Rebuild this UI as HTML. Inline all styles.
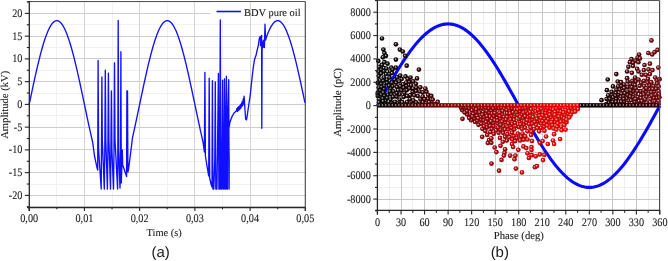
<!DOCTYPE html>
<html><head><meta charset="utf-8"><style>
html,body{margin:0;padding:0;background:#fff;}
svg{display:block;will-change:transform;} text{text-rendering:geometricPrecision;}
</style></head><body>
<svg width="668" height="261" viewBox="0 0 668 261">
<defs><radialGradient id="g0" cx="0.5" cy="0.5" r="0.5" fx="0.38" fy="0.36"><stop offset="0" stop-color="rgb(229, 225, 225)"/><stop offset="0.24" stop-color="rgb(136, 117, 117)"/><stop offset="0.55" stop-color="rgb(38, 4, 4)"/><stop offset="0.88" stop-color="rgb(33, 3, 3)"/><stop offset="1" stop-color="rgb(22, 2, 2)"/></radialGradient><radialGradient id="g1" cx="0.5" cy="0.5" r="0.5" fx="0.38" fy="0.36"><stop offset="0" stop-color="rgb(226, 225, 225)"/><stop offset="0.24" stop-color="rgb(121, 119, 119)"/><stop offset="0.55" stop-color="rgb(12, 8, 8)"/><stop offset="0.88" stop-color="rgb(10, 7, 7)"/><stop offset="1" stop-color="rgb(7, 4, 4)"/></radialGradient><radialGradient id="g2" cx="0.5" cy="0.5" r="0.5" fx="0.38" fy="0.36"><stop offset="0" stop-color="rgb(226, 225, 225)"/><stop offset="0.24" stop-color="rgb(121, 119, 119)"/><stop offset="0.55" stop-color="rgb(11, 8, 8)"/><stop offset="0.88" stop-color="rgb(9, 7, 7)"/><stop offset="1" stop-color="rgb(6, 4, 4)"/></radialGradient><radialGradient id="g3" cx="0.5" cy="0.5" r="0.5" fx="0.38" fy="0.36"><stop offset="0" stop-color="rgb(228, 225, 225)"/><stop offset="0.24" stop-color="rgb(132, 118, 118)"/><stop offset="0.55" stop-color="rgb(31, 5, 5)"/><stop offset="0.88" stop-color="rgb(27, 4, 4)"/><stop offset="1" stop-color="rgb(18, 3, 3)"/></radialGradient><radialGradient id="g4" cx="0.5" cy="0.5" r="0.5" fx="0.38" fy="0.36"><stop offset="0" stop-color="rgb(230, 225, 225)"/><stop offset="0.24" stop-color="rgb(139, 116, 116)"/><stop offset="0.55" stop-color="rgb(44, 3, 3)"/><stop offset="0.88" stop-color="rgb(38, 2, 2)"/><stop offset="1" stop-color="rgb(26, 1, 1)"/></radialGradient><radialGradient id="g5" cx="0.5" cy="0.5" r="0.5" fx="0.38" fy="0.36"><stop offset="0" stop-color="rgb(227, 225, 225)"/><stop offset="0.24" stop-color="rgb(127, 118, 118)"/><stop offset="0.55" stop-color="rgb(23, 6, 6)"/><stop offset="0.88" stop-color="rgb(20, 5, 5)"/><stop offset="1" stop-color="rgb(13, 3, 3)"/></radialGradient><radialGradient id="g6" cx="0.5" cy="0.5" r="0.5" fx="0.38" fy="0.36"><stop offset="0" stop-color="rgb(227, 225, 225)"/><stop offset="0.24" stop-color="rgb(128, 118, 118)"/><stop offset="0.55" stop-color="rgb(24, 6, 6)"/><stop offset="0.88" stop-color="rgb(21, 5, 5)"/><stop offset="1" stop-color="rgb(14, 3, 3)"/></radialGradient><radialGradient id="g7" cx="0.5" cy="0.5" r="0.5" fx="0.38" fy="0.36"><stop offset="0" stop-color="rgb(232, 225, 225)"/><stop offset="0.24" stop-color="rgb(149, 116, 117)"/><stop offset="0.55" stop-color="rgb(63, 2, 4)"/><stop offset="0.88" stop-color="rgb(55, 1, 3)"/><stop offset="1" stop-color="rgb(37, 1, 2)"/></radialGradient><radialGradient id="g8" cx="0.5" cy="0.5" r="0.5" fx="0.38" fy="0.36"><stop offset="0" stop-color="rgb(231, 225, 225)"/><stop offset="0.24" stop-color="rgb(143, 116, 116)"/><stop offset="0.55" stop-color="rgb(52, 3, 3)"/><stop offset="0.88" stop-color="rgb(45, 2, 2)"/><stop offset="1" stop-color="rgb(31, 1, 1)"/></radialGradient><radialGradient id="g9" cx="0.5" cy="0.5" r="0.5" fx="0.38" fy="0.36"><stop offset="0" stop-color="rgb(233, 225, 225)"/><stop offset="0.24" stop-color="rgb(153, 116, 117)"/><stop offset="0.55" stop-color="rgb(69, 2, 4)"/><stop offset="0.88" stop-color="rgb(60, 1, 3)"/><stop offset="1" stop-color="rgb(41, 1, 2)"/></radialGradient><radialGradient id="g10" cx="0.5" cy="0.5" r="0.5" fx="0.38" fy="0.36"><stop offset="0" stop-color="rgb(228, 225, 225)"/><stop offset="0.24" stop-color="rgb(130, 118, 118)"/><stop offset="0.55" stop-color="rgb(28, 5, 5)"/><stop offset="0.88" stop-color="rgb(24, 4, 4)"/><stop offset="1" stop-color="rgb(16, 3, 3)"/></radialGradient><radialGradient id="g11" cx="0.5" cy="0.5" r="0.5" fx="0.38" fy="0.36"><stop offset="0" stop-color="rgb(233, 225, 225)"/><stop offset="0.24" stop-color="rgb(155, 116, 117)"/><stop offset="0.55" stop-color="rgb(73, 2, 4)"/><stop offset="0.88" stop-color="rgb(64, 1, 3)"/><stop offset="1" stop-color="rgb(43, 1, 2)"/></radialGradient><radialGradient id="g12" cx="0.5" cy="0.5" r="0.5" fx="0.38" fy="0.36"><stop offset="0" stop-color="rgb(234, 225, 225)"/><stop offset="0.24" stop-color="rgb(159, 116, 117)"/><stop offset="0.55" stop-color="rgb(80, 2, 4)"/><stop offset="0.88" stop-color="rgb(70, 1, 3)"/><stop offset="1" stop-color="rgb(48, 1, 2)"/></radialGradient><radialGradient id="g13" cx="0.5" cy="0.5" r="0.5" fx="0.38" fy="0.36"><stop offset="0" stop-color="rgb(231, 225, 225)"/><stop offset="0.24" stop-color="rgb(146, 116, 116)"/><stop offset="0.55" stop-color="rgb(56, 3, 3)"/><stop offset="0.88" stop-color="rgb(49, 2, 2)"/><stop offset="1" stop-color="rgb(33, 1, 1)"/></radialGradient><radialGradient id="g14" cx="0.5" cy="0.5" r="0.5" fx="0.38" fy="0.36"><stop offset="0" stop-color="rgb(235, 225, 225)"/><stop offset="0.24" stop-color="rgb(162, 115, 118)"/><stop offset="0.55" stop-color="rgb(85, 1, 5)"/><stop offset="0.88" stop-color="rgb(74, 0, 4)"/><stop offset="1" stop-color="rgb(51, 0, 3)"/></radialGradient><radialGradient id="g15" cx="0.5" cy="0.5" r="0.5" fx="0.38" fy="0.36"><stop offset="0" stop-color="rgb(253, 225, 225)"/><stop offset="0.24" stop-color="rgb(247, 118, 118)"/><stop offset="0.55" stop-color="rgb(241, 5, 5)"/><stop offset="0.88" stop-color="rgb(212, 4, 4)"/><stop offset="1" stop-color="rgb(144, 3, 3)"/></radialGradient><radialGradient id="g16" cx="0.5" cy="0.5" r="0.5" fx="0.38" fy="0.36"><stop offset="0" stop-color="rgb(249, 225, 225)"/><stop offset="0.24" stop-color="rgb(230, 116, 119)"/><stop offset="0.55" stop-color="rgb(209, 3, 7)"/><stop offset="0.88" stop-color="rgb(183, 2, 6)"/><stop offset="1" stop-color="rgb(125, 1, 4)"/></radialGradient><radialGradient id="g17" cx="0.5" cy="0.5" r="0.5" fx="0.38" fy="0.36"><stop offset="0" stop-color="rgb(244, 225, 225)"/><stop offset="0.24" stop-color="rgb(204, 115, 119)"/><stop offset="0.55" stop-color="rgb(163, 1, 8)"/><stop offset="0.88" stop-color="rgb(143, 0, 7)"/><stop offset="1" stop-color="rgb(97, 0, 4)"/></radialGradient><radialGradient id="g18" cx="0.5" cy="0.5" r="0.5" fx="0.38" fy="0.36"><stop offset="0" stop-color="rgb(244, 225, 225)"/><stop offset="0.24" stop-color="rgb(203, 115, 119)"/><stop offset="0.55" stop-color="rgb(160, 1, 8)"/><stop offset="0.88" stop-color="rgb(140, 0, 7)"/><stop offset="1" stop-color="rgb(96, 0, 4)"/></radialGradient><radialGradient id="g19" cx="0.5" cy="0.5" r="0.5" fx="0.38" fy="0.36"><stop offset="0" stop-color="rgb(241, 224, 225)"/><stop offset="0.24" stop-color="rgb(190, 115, 119)"/><stop offset="0.55" stop-color="rgb(136, 0, 8)"/><stop offset="0.88" stop-color="rgb(119, 0, 7)"/><stop offset="1" stop-color="rgb(81, 0, 4)"/></radialGradient><radialGradient id="g20" cx="0.5" cy="0.5" r="0.5" fx="0.38" fy="0.36"><stop offset="0" stop-color="rgb(241, 224, 225)"/><stop offset="0.24" stop-color="rgb(191, 115, 119)"/><stop offset="0.55" stop-color="rgb(139, 0, 8)"/><stop offset="0.88" stop-color="rgb(122, 0, 7)"/><stop offset="1" stop-color="rgb(83, 0, 4)"/></radialGradient><radialGradient id="g21" cx="0.5" cy="0.5" r="0.5" fx="0.38" fy="0.36"><stop offset="0" stop-color="rgb(243, 225, 225)"/><stop offset="0.24" stop-color="rgb(199, 115, 119)"/><stop offset="0.55" stop-color="rgb(154, 1, 8)"/><stop offset="0.88" stop-color="rgb(135, 0, 7)"/><stop offset="1" stop-color="rgb(92, 0, 4)"/></radialGradient><radialGradient id="g22" cx="0.5" cy="0.5" r="0.5" fx="0.38" fy="0.36"><stop offset="0" stop-color="rgb(254, 225, 225)"/><stop offset="0.24" stop-color="rgb(251, 118, 118)"/><stop offset="0.55" stop-color="rgb(248, 5, 5)"/><stop offset="0.88" stop-color="rgb(218, 4, 4)"/><stop offset="1" stop-color="rgb(148, 3, 3)"/></radialGradient><radialGradient id="g23" cx="0.5" cy="0.5" r="0.5" fx="0.38" fy="0.36"><stop offset="0" stop-color="rgb(250, 225, 225)"/><stop offset="0.24" stop-color="rgb(234, 117, 118)"/><stop offset="0.55" stop-color="rgb(217, 4, 6)"/><stop offset="0.88" stop-color="rgb(190, 3, 5)"/><stop offset="1" stop-color="rgb(130, 2, 3)"/></radialGradient><radialGradient id="g24" cx="0.5" cy="0.5" r="0.5" fx="0.38" fy="0.36"><stop offset="0" stop-color="rgb(251, 225, 225)"/><stop offset="0.24" stop-color="rgb(237, 117, 118)"/><stop offset="0.55" stop-color="rgb(222, 4, 6)"/><stop offset="0.88" stop-color="rgb(195, 3, 5)"/><stop offset="1" stop-color="rgb(133, 2, 3)"/></radialGradient><radialGradient id="g25" cx="0.5" cy="0.5" r="0.5" fx="0.38" fy="0.36"><stop offset="0" stop-color="rgb(246, 225, 225)"/><stop offset="0.24" stop-color="rgb(214, 116, 119)"/><stop offset="0.55" stop-color="rgb(180, 2, 8)"/><stop offset="0.88" stop-color="rgb(158, 1, 7)"/><stop offset="1" stop-color="rgb(108, 1, 4)"/></radialGradient><radialGradient id="g26" cx="0.5" cy="0.5" r="0.5" fx="0.38" fy="0.36"><stop offset="0" stop-color="rgb(247, 225, 225)"/><stop offset="0.24" stop-color="rgb(220, 116, 119)"/><stop offset="0.55" stop-color="rgb(191, 3, 7)"/><stop offset="0.88" stop-color="rgb(168, 2, 6)"/><stop offset="1" stop-color="rgb(114, 1, 4)"/></radialGradient><radialGradient id="g27" cx="0.5" cy="0.5" r="0.5" fx="0.38" fy="0.36"><stop offset="0" stop-color="rgb(242, 224, 225)"/><stop offset="0.24" stop-color="rgb(197, 115, 119)"/><stop offset="0.55" stop-color="rgb(149, 0, 8)"/><stop offset="0.88" stop-color="rgb(131, 0, 7)"/><stop offset="1" stop-color="rgb(89, 0, 4)"/></radialGradient><radialGradient id="g28" cx="0.5" cy="0.5" r="0.5" fx="0.38" fy="0.36"><stop offset="0" stop-color="rgb(248, 225, 225)"/><stop offset="0.24" stop-color="rgb(223, 116, 119)"/><stop offset="0.55" stop-color="rgb(196, 3, 7)"/><stop offset="0.88" stop-color="rgb(172, 2, 6)"/><stop offset="1" stop-color="rgb(117, 1, 4)"/></radialGradient><radialGradient id="g29" cx="0.5" cy="0.5" r="0.5" fx="0.38" fy="0.36"><stop offset="0" stop-color="rgb(248, 225, 225)"/><stop offset="0.24" stop-color="rgb(225, 116, 119)"/><stop offset="0.55" stop-color="rgb(200, 3, 7)"/><stop offset="0.88" stop-color="rgb(176, 2, 6)"/><stop offset="1" stop-color="rgb(120, 1, 4)"/></radialGradient><radialGradient id="g30" cx="0.5" cy="0.5" r="0.5" fx="0.38" fy="0.36"><stop offset="0" stop-color="rgb(252, 225, 225)"/><stop offset="0.24" stop-color="rgb(242, 117, 118)"/><stop offset="0.55" stop-color="rgb(231, 4, 6)"/><stop offset="0.88" stop-color="rgb(203, 3, 5)"/><stop offset="1" stop-color="rgb(138, 2, 3)"/></radialGradient><radialGradient id="g31" cx="0.5" cy="0.5" r="0.5" fx="0.38" fy="0.36"><stop offset="0" stop-color="rgb(250, 225, 225)"/><stop offset="0.24" stop-color="rgb(231, 117, 118)"/><stop offset="0.55" stop-color="rgb(212, 4, 6)"/><stop offset="0.88" stop-color="rgb(186, 3, 5)"/><stop offset="1" stop-color="rgb(127, 2, 3)"/></radialGradient><radialGradient id="g32" cx="0.5" cy="0.5" r="0.5" fx="0.38" fy="0.36"><stop offset="0" stop-color="rgb(245, 225, 225)"/><stop offset="0.24" stop-color="rgb(210, 116, 119)"/><stop offset="0.55" stop-color="rgb(174, 2, 8)"/><stop offset="0.88" stop-color="rgb(153, 1, 7)"/><stop offset="1" stop-color="rgb(104, 1, 4)"/></radialGradient><radialGradient id="g33" cx="0.5" cy="0.5" r="0.5" fx="0.38" fy="0.36"><stop offset="0" stop-color="rgb(252, 225, 225)"/><stop offset="0.24" stop-color="rgb(243, 118, 118)"/><stop offset="0.55" stop-color="rgb(233, 5, 5)"/><stop offset="0.88" stop-color="rgb(205, 4, 4)"/><stop offset="1" stop-color="rgb(139, 3, 3)"/></radialGradient><radialGradient id="g34" cx="0.5" cy="0.5" r="0.5" fx="0.38" fy="0.36"><stop offset="0" stop-color="rgb(245, 225, 225)"/><stop offset="0.24" stop-color="rgb(208, 115, 119)"/><stop offset="0.55" stop-color="rgb(170, 1, 8)"/><stop offset="0.88" stop-color="rgb(149, 0, 7)"/><stop offset="1" stop-color="rgb(102, 0, 4)"/></radialGradient><radialGradient id="g35" cx="0.5" cy="0.5" r="0.5" fx="0.38" fy="0.36"><stop offset="0" stop-color="rgb(253, 225, 225)"/><stop offset="0.24" stop-color="rgb(244, 118, 118)"/><stop offset="0.55" stop-color="rgb(235, 5, 5)"/><stop offset="0.88" stop-color="rgb(206, 4, 4)"/><stop offset="1" stop-color="rgb(141, 3, 3)"/></radialGradient><radialGradient id="g36" cx="0.5" cy="0.5" r="0.5" fx="0.38" fy="0.36"><stop offset="0" stop-color="rgb(255, 225, 225)"/><stop offset="0.24" stop-color="rgb(253, 118, 118)"/><stop offset="0.55" stop-color="rgb(252, 5, 5)"/><stop offset="0.88" stop-color="rgb(221, 4, 4)"/><stop offset="1" stop-color="rgb(151, 3, 3)"/></radialGradient><radialGradient id="g37" cx="0.5" cy="0.5" r="0.5" fx="0.38" fy="0.36"><stop offset="0" stop-color="rgb(240, 224, 225)"/><stop offset="0.24" stop-color="rgb(184, 115, 119)"/><stop offset="0.55" stop-color="rgb(126, 0, 7)"/><stop offset="0.88" stop-color="rgb(110, 0, 6)"/><stop offset="1" stop-color="rgb(75, 0, 4)"/></radialGradient><radialGradient id="g38" cx="0.5" cy="0.5" r="0.5" fx="0.38" fy="0.36"><stop offset="0" stop-color="rgb(239, 224, 225)"/><stop offset="0.24" stop-color="rgb(183, 115, 119)"/><stop offset="0.55" stop-color="rgb(124, 0, 7)"/><stop offset="0.88" stop-color="rgb(109, 0, 6)"/><stop offset="1" stop-color="rgb(74, 0, 4)"/></radialGradient><radialGradient id="g39" cx="0.5" cy="0.5" r="0.5" fx="0.38" fy="0.36"><stop offset="0" stop-color="rgb(236, 225, 226)"/><stop offset="0.24" stop-color="rgb(169, 119, 122)"/><stop offset="0.55" stop-color="rgb(99, 8, 13)"/><stop offset="0.88" stop-color="rgb(87, 7, 11)"/><stop offset="1" stop-color="rgb(59, 4, 7)"/></radialGradient><radialGradient id="g40" cx="0.5" cy="0.5" r="0.5" fx="0.38" fy="0.36"><stop offset="0" stop-color="rgb(230, 225, 225)"/><stop offset="0.24" stop-color="rgb(142, 118, 118)"/><stop offset="0.55" stop-color="rgb(49, 5, 6)"/><stop offset="0.88" stop-color="rgb(43, 4, 5)"/><stop offset="1" stop-color="rgb(29, 3, 3)"/></radialGradient><radialGradient id="g41" cx="0.5" cy="0.5" r="0.5" fx="0.38" fy="0.36"><stop offset="0" stop-color="rgb(231, 225, 225)"/><stop offset="0.24" stop-color="rgb(147, 118, 119)"/><stop offset="0.55" stop-color="rgb(58, 6, 8)"/><stop offset="0.88" stop-color="rgb(51, 5, 7)"/><stop offset="1" stop-color="rgb(34, 3, 4)"/></radialGradient><radialGradient id="g42" cx="0.5" cy="0.5" r="0.5" fx="0.38" fy="0.36"><stop offset="0" stop-color="rgb(235, 225, 226)"/><stop offset="0.24" stop-color="rgb(162, 119, 121)"/><stop offset="0.55" stop-color="rgb(85, 7, 11)"/><stop offset="0.88" stop-color="rgb(74, 6, 9)"/><stop offset="1" stop-color="rgb(51, 4, 6)"/></radialGradient><radialGradient id="g43" cx="0.5" cy="0.5" r="0.5" fx="0.38" fy="0.36"><stop offset="0" stop-color="rgb(239, 226, 226)"/><stop offset="0.24" stop-color="rgb(182, 120, 123)"/><stop offset="0.55" stop-color="rgb(122, 10, 15)"/><stop offset="0.88" stop-color="rgb(107, 8, 13)"/><stop offset="1" stop-color="rgb(73, 6, 9)"/></radialGradient><radialGradient id="g44" cx="0.5" cy="0.5" r="0.5" fx="0.38" fy="0.36"><stop offset="0" stop-color="rgb(237, 225, 226)"/><stop offset="0.24" stop-color="rgb(171, 120, 122)"/><stop offset="0.55" stop-color="rgb(102, 9, 13)"/><stop offset="0.88" stop-color="rgb(89, 7, 11)"/><stop offset="1" stop-color="rgb(61, 5, 7)"/></radialGradient><radialGradient id="g45" cx="0.5" cy="0.5" r="0.5" fx="0.38" fy="0.36"><stop offset="0" stop-color="rgb(236, 225, 226)"/><stop offset="0.24" stop-color="rgb(166, 119, 121)"/><stop offset="0.55" stop-color="rgb(93, 8, 12)"/><stop offset="0.88" stop-color="rgb(81, 7, 10)"/><stop offset="1" stop-color="rgb(55, 4, 7)"/></radialGradient><radialGradient id="g46" cx="0.5" cy="0.5" r="0.5" fx="0.38" fy="0.36"><stop offset="0" stop-color="rgb(232, 225, 225)"/><stop offset="0.24" stop-color="rgb(150, 118, 120)"/><stop offset="0.55" stop-color="rgb(65, 6, 9)"/><stop offset="0.88" stop-color="rgb(57, 5, 7)"/><stop offset="1" stop-color="rgb(39, 3, 5)"/></radialGradient><radialGradient id="g47" cx="0.5" cy="0.5" r="0.5" fx="0.38" fy="0.36"><stop offset="0" stop-color="rgb(233, 225, 226)"/><stop offset="0.24" stop-color="rgb(155, 119, 120)"/><stop offset="0.55" stop-color="rgb(74, 7, 10)"/><stop offset="0.88" stop-color="rgb(65, 6, 8)"/><stop offset="1" stop-color="rgb(44, 4, 6)"/></radialGradient><radialGradient id="g48" cx="0.5" cy="0.5" r="0.5" fx="0.38" fy="0.36"><stop offset="0" stop-color="rgb(232, 225, 225)"/><stop offset="0.24" stop-color="rgb(152, 118, 120)"/><stop offset="0.55" stop-color="rgb(67, 6, 9)"/><stop offset="0.88" stop-color="rgb(58, 5, 7)"/><stop offset="1" stop-color="rgb(40, 3, 5)"/></radialGradient><radialGradient id="g49" cx="0.5" cy="0.5" r="0.5" fx="0.38" fy="0.36"><stop offset="0" stop-color="rgb(238, 226, 226)"/><stop offset="0.24" stop-color="rgb(179, 120, 123)"/><stop offset="0.55" stop-color="rgb(117, 10, 15)"/><stop offset="0.88" stop-color="rgb(102, 8, 13)"/><stop offset="1" stop-color="rgb(70, 6, 9)"/></radialGradient><radialGradient id="g50" cx="0.5" cy="0.5" r="0.5" fx="0.38" fy="0.36"><stop offset="0" stop-color="rgb(237, 225, 226)"/><stop offset="0.24" stop-color="rgb(175, 120, 122)"/><stop offset="0.55" stop-color="rgb(109, 9, 14)"/><stop offset="0.88" stop-color="rgb(95, 7, 12)"/><stop offset="1" stop-color="rgb(65, 5, 8)"/></radialGradient><radialGradient id="g51" cx="0.5" cy="0.5" r="0.5" fx="0.38" fy="0.36"><stop offset="0" stop-color="rgb(234, 225, 226)"/><stop offset="0.24" stop-color="rgb(160, 119, 121)"/><stop offset="0.55" stop-color="rgb(83, 7, 11)"/><stop offset="0.88" stop-color="rgb(73, 6, 9)"/><stop offset="1" stop-color="rgb(49, 4, 6)"/></radialGradient><radialGradient id="g52" cx="0.5" cy="0.5" r="0.5" fx="0.38" fy="0.36"><stop offset="0" stop-color="rgb(230, 225, 225)"/><stop offset="0.24" stop-color="rgb(138, 118, 118)"/><stop offset="0.55" stop-color="rgb(43, 5, 6)"/><stop offset="0.88" stop-color="rgb(37, 4, 5)"/><stop offset="1" stop-color="rgb(25, 3, 3)"/></radialGradient><linearGradient id="bandg" x1="0" y1="0" x2="1" y2="0"><stop offset="0.0000" stop-color="rgb(15, 8, 8)"/><stop offset="0.0278" stop-color="rgb(20, 7, 7)"/><stop offset="0.0556" stop-color="rgb(25, 6, 6)"/><stop offset="0.0833" stop-color="rgb(40, 4, 4)"/><stop offset="0.1250" stop-color="rgb(64, 2, 2)"/><stop offset="0.1667" stop-color="rgb(90, 0, 0)"/><stop offset="0.2083" stop-color="rgb(116, 0, 0)"/><stop offset="0.2500" stop-color="rgb(131, 0, 0)"/><stop offset="0.2917" stop-color="rgb(141, 0, 0)"/><stop offset="0.3333" stop-color="rgb(150, 0, 0)"/><stop offset="0.3889" stop-color="rgb(168, 0, 0)"/><stop offset="0.4444" stop-color="rgb(185, 0, 0)"/><stop offset="0.5000" stop-color="rgb(200, 0, 0)"/><stop offset="0.5556" stop-color="rgb(215, 0, 0)"/><stop offset="0.6111" stop-color="rgb(230, 0, 0)"/><stop offset="0.6667" stop-color="rgb(245, 0, 0)"/><stop offset="0.7125" stop-color="rgb(250, 5, 5)"/><stop offset="0.7153" stop-color="rgb(12, 0, 0)"/><stop offset="0.7500" stop-color="rgb(14, 0, 0)"/><stop offset="0.8056" stop-color="rgb(18, 0, 0)"/><stop offset="0.8611" stop-color="rgb(27, 1, 1)"/><stop offset="0.9167" stop-color="rgb(40, 2, 2)"/><stop offset="0.9583" stop-color="rgb(50, 3, 3)"/><stop offset="1.0000" stop-color="rgb(60, 4, 4)"/></linearGradient></defs>
<rect width="668" height="261" fill="#fff"/>
<line x1="29.3" y1="206.5" x2="305.3" y2="206.5" stroke="#f1f1f1" stroke-width="1"/>
<line x1="29.3" y1="184.5" x2="305.3" y2="184.5" stroke="#f1f1f1" stroke-width="1"/>
<line x1="29.3" y1="161.5" x2="305.3" y2="161.5" stroke="#f1f1f1" stroke-width="1"/>
<line x1="29.3" y1="138.5" x2="305.3" y2="138.5" stroke="#f1f1f1" stroke-width="1"/>
<line x1="29.3" y1="115.5" x2="305.3" y2="115.5" stroke="#f1f1f1" stroke-width="1"/>
<line x1="29.3" y1="93.5" x2="305.3" y2="93.5" stroke="#f1f1f1" stroke-width="1"/>
<line x1="29.3" y1="70.5" x2="305.3" y2="70.5" stroke="#f1f1f1" stroke-width="1"/>
<line x1="29.3" y1="47.5" x2="305.3" y2="47.5" stroke="#f1f1f1" stroke-width="1"/>
<line x1="29.3" y1="24.5" x2="305.3" y2="24.5" stroke="#f1f1f1" stroke-width="1"/>
<line x1="29.3" y1="2.5" x2="305.3" y2="2.5" stroke="#f1f1f1" stroke-width="1"/>
<line x1="56.5" y1="1.5" x2="56.5" y2="207.5" stroke="#f1f1f1" stroke-width="1"/>
<line x1="112.5" y1="1.5" x2="112.5" y2="207.5" stroke="#f1f1f1" stroke-width="1"/>
<line x1="167.5" y1="1.5" x2="167.5" y2="207.5" stroke="#f1f1f1" stroke-width="1"/>
<line x1="222.5" y1="1.5" x2="222.5" y2="207.5" stroke="#f1f1f1" stroke-width="1"/>
<line x1="277.5" y1="1.5" x2="277.5" y2="207.5" stroke="#f1f1f1" stroke-width="1"/>
<line x1="29.3" y1="195.5" x2="305.3" y2="195.5" stroke="#cdcdcd" stroke-width="1"/>
<line x1="29.3" y1="172.5" x2="305.3" y2="172.5" stroke="#cdcdcd" stroke-width="1"/>
<line x1="29.3" y1="149.5" x2="305.3" y2="149.5" stroke="#cdcdcd" stroke-width="1"/>
<line x1="29.3" y1="127.5" x2="305.3" y2="127.5" stroke="#cdcdcd" stroke-width="1"/>
<line x1="29.3" y1="104.5" x2="305.3" y2="104.5" stroke="#cdcdcd" stroke-width="1"/>
<line x1="29.3" y1="81.5" x2="305.3" y2="81.5" stroke="#cdcdcd" stroke-width="1"/>
<line x1="29.3" y1="58.5" x2="305.3" y2="58.5" stroke="#cdcdcd" stroke-width="1"/>
<line x1="29.3" y1="36.5" x2="305.3" y2="36.5" stroke="#cdcdcd" stroke-width="1"/>
<line x1="29.3" y1="13.5" x2="210.5" y2="13.5" stroke="#cdcdcd" stroke-width="1"/>
<rect x="210.6" y="2.2" width="94.2" height="18.3" fill="#fff"/>
<line x1="84.5" y1="1.5" x2="84.5" y2="207.5" stroke="#d4d4d4" stroke-width="1"/>
<line x1="139.5" y1="1.5" x2="139.5" y2="207.5" stroke="#d4d4d4" stroke-width="1"/>
<line x1="194.5" y1="1.5" x2="194.5" y2="207.5" stroke="#d4d4d4" stroke-width="1"/>
<line x1="250.5" y1="1.5" x2="250.5" y2="207.5" stroke="#d4d4d4" stroke-width="1"/>
<path d="M29.20,104.40 L29.70,102.02 L30.20,99.64 L30.70,97.26 L31.20,94.89 L31.70,92.53 L32.20,90.18 L32.70,87.84 L33.20,85.51 L33.70,83.20 L34.20,80.90 L34.70,78.63 L35.20,76.37 L35.70,74.14 L36.20,71.93 L36.70,69.75 L37.20,67.60 L37.70,65.47 L38.20,63.38 L38.70,61.32 L39.20,59.30 L39.70,57.31 L40.20,55.36 L40.70,53.45 L41.20,51.58 L41.70,49.76 L42.20,47.97 L42.70,46.24 L43.20,44.55 L43.70,42.91 L44.20,41.32 L44.70,39.78 L45.20,38.29 L45.70,36.85 L46.20,35.47 L46.70,34.15 L47.20,32.88 L47.70,31.68 L48.20,30.52 L48.70,29.43 L49.20,28.40 L49.70,27.44 L50.20,26.53 L50.70,25.69 L51.20,24.91 L51.70,24.19 L52.20,23.54 L52.70,22.96 L53.20,22.44 L53.70,21.99 L54.20,21.60 L54.70,21.28 L55.20,21.03 L55.70,20.85 L56.20,20.73 L56.70,20.68 L57.20,20.70 L57.70,20.79 L58.20,20.94 L58.70,21.16 L59.20,21.45 L59.70,21.81 L60.20,22.23 L60.70,22.72 L61.20,23.28 L61.70,23.90 L62.20,24.59 L62.70,25.34 L63.20,26.15 L63.70,27.03 L64.20,27.97 L64.70,28.97 L65.20,30.04 L65.70,31.16 L66.20,32.34 L66.70,33.59 L67.20,34.89 L67.70,36.24 L68.20,37.65 L68.70,39.12 L69.20,40.63 L69.70,42.20 L70.20,43.82 L70.70,45.49 L71.20,47.20 L71.70,48.97 L72.20,50.77 L72.70,52.62 L73.20,54.51 L73.70,56.45 L74.20,58.42 L74.70,60.43 L75.20,62.47 L75.70,64.55 L76.20,66.66 L76.70,68.80 L77.20,70.97 L77.70,73.17 L78.20,75.39 L78.70,77.63 L79.20,79.90 L79.70,82.19 L80.20,84.49 L80.70,86.81 L81.20,89.15 L81.70,91.50 L82.20,93.85 L82.70,96.22 L83.20,98.59 L83.70,100.97 L84.20,103.35 L84.70,105.73 L85.20,108.11 L85.70,110.49 L86.20,112.86 L86.70,115.23 L87.20,117.59 L87.70,119.93 L88.20,122.27 L88.70,124.58 L89.20,126.89 L89.70,129.17 L90.20,131.44 L90.70,133.68 L91.20,135.90 L91.70,138.09 L92.20,140.26 L92.70,142.40 L94.50,156.00 L95.70,161.70 L97.20,168.50 L97.70,170.00 L98.10,60.50 L98.60,150.00 L101.20,189.00 L101.50,150.00 L101.90,76.90 L102.30,140.00 L104.30,189.00 L104.80,150.00 L105.30,70.20 L105.80,140.00 L107.40,189.00 L107.90,150.00 L108.40,73.10 L108.90,140.00 L110.50,189.00 L110.90,150.00 L111.40,90.90 L111.90,150.00 L113.50,189.00 L114.00,150.00 L114.50,62.80 L115.00,140.00 L117.60,189.00 L117.80,160.00 L118.20,20.40 L118.60,150.00 L120.00,188.00 L120.50,150.00 L120.90,51.80 L121.30,183.00 L122.30,150.00 L122.70,165.00 L126.60,176.50 L126.90,90.90 L127.50,90.90 L127.90,172.00 L128.60,169.00 L130.00,158.00 L131.60,145.00 L132.50,137.48 L133.00,135.28 L133.50,133.05 L134.00,130.80 L134.50,128.53 L135.00,126.24 L135.50,123.94 L136.00,121.61 L136.50,119.28 L137.00,116.93 L137.50,114.57 L138.00,112.20 L138.50,109.83 L139.00,107.45 L139.50,105.07 L140.00,102.69 L140.50,100.31 L141.00,97.93 L141.50,95.56 L142.00,93.19 L142.50,90.84 L143.00,88.49 L143.50,86.16 L144.00,83.85 L144.50,81.55 L145.00,79.26 L145.50,77.00 L146.00,74.76 L146.50,72.55 L147.00,70.36 L147.50,68.20 L148.00,66.07 L148.50,63.96 L149.00,61.90 L149.50,59.86 L150.00,57.86 L150.50,55.90 L151.00,53.98 L151.50,52.10 L152.00,50.26 L152.50,48.47 L153.00,46.72 L153.50,45.02 L154.00,43.36 L154.50,41.76 L155.00,40.20 L155.50,38.70 L156.00,37.25 L156.50,35.86 L157.00,34.52 L157.50,33.23 L158.00,32.01 L158.50,30.84 L159.00,29.73 L159.50,28.69 L160.00,27.70 L160.50,26.78 L161.00,25.92 L161.50,25.12 L162.00,24.39 L162.50,23.72 L163.00,23.12 L163.50,22.58 L164.00,22.11 L164.50,21.70 L165.00,21.36 L165.50,21.09 L166.00,20.89 L166.50,20.76 L167.00,20.69 L167.50,20.69 L168.00,20.76 L168.50,20.89 L169.00,21.09 L169.50,21.36 L170.00,21.70 L170.50,22.11 L171.00,22.58 L171.50,23.12 L172.00,23.72 L172.50,24.39 L173.00,25.12 L173.50,25.92 L174.00,26.78 L174.50,27.70 L175.00,28.69 L175.50,29.73 L176.00,30.84 L176.50,32.01 L177.00,33.23 L177.50,34.52 L178.00,35.86 L178.50,37.25 L179.00,38.70 L179.50,40.20 L180.00,41.76 L180.50,43.36 L181.00,45.02 L181.50,46.72 L182.00,48.47 L182.50,50.26 L183.00,52.10 L183.50,53.98 L184.00,55.90 L184.50,57.86 L185.00,59.86 L185.50,61.90 L186.00,63.96 L186.50,66.07 L187.00,68.20 L187.50,70.36 L188.00,72.55 L188.50,74.76 L189.00,77.00 L189.50,79.26 L190.00,81.55 L190.50,83.85 L191.00,86.16 L191.50,88.49 L192.00,90.84 L192.50,93.19 L193.00,95.56 L193.50,97.93 L194.00,100.31 L194.50,102.69 L195.00,105.07 L195.50,107.45 L196.00,109.83 L196.50,112.20 L197.00,114.57 L197.50,116.93 L198.00,119.28 L198.50,121.61 L199.00,123.94 L199.50,126.24 L200.00,128.53 L200.50,130.80 L201.00,133.05 L201.50,135.28 L203.00,142.00 L204.40,152.00 L204.90,72.50 L205.40,156.00 L207.00,166.00 L208.70,176.00 L209.20,78.20 L209.70,178.00 L211.00,184.00 L212.00,187.00 L212.40,80.70 L212.90,189.00 L213.80,189.00 L214.80,160.00 L215.30,82.00 L215.80,189.00 L216.90,189.00 L217.50,150.00 L218.40,73.40 L218.90,189.00 L219.60,189.00 L220.30,20.00 L220.80,189.00 L221.60,189.00 L222.60,80.10 L223.00,189.00 L223.60,189.00 L224.50,78.80 L224.90,189.00 L225.50,189.00 L225.80,120.00 L226.40,76.30 L226.80,189.00 L227.50,189.00 L227.80,110.00 L228.70,79.70 L229.10,189.00 L229.20,160.00 L228.60,130.00 L230.00,122.00 L231.90,116.80 L234.00,113.00 L236.50,110.70 L236.90,108.50 L237.35,111.50 L237.80,107.50 L238.25,110.50 L238.70,106.80 L239.15,109.80 L239.60,106.00 L240.05,108.80 L240.50,104.80 L240.95,108.00 L241.40,103.50 L241.85,106.50 L242.30,101.50 L242.75,105.50 L243.20,99.00 L243.65,104.00 L244.10,96.10 L244.55,103.00 L245.00,110.00 L245.70,119.10 L246.50,119.90 L247.20,116.00 L248.00,110.00 L249.20,102.00 L250.30,94.60 L251.50,83.00 L252.70,72.20 L253.50,66.00 L254.40,60.20 L255.20,57.50 L256.10,55.00 L257.20,50.00 L258.40,45.30 L259.00,40.00 L259.70,37.50 L260.40,36.50 L260.60,45.60 L261.20,40.00 L261.60,35.50 L261.80,128.30 L262.10,50.00 L263.00,42.00 L263.50,40.30 L263.60,47.20 L264.40,47.50 L265.00,24.20 L265.60,40.00 L266.00,38.52 L266.50,37.08 L267.00,35.69 L267.50,34.36 L268.00,33.08 L268.50,31.86 L269.00,30.70 L269.50,29.60 L270.00,28.57 L270.50,27.59 L271.00,26.67 L271.50,25.82 L272.00,25.03 L272.50,24.30 L273.00,23.64 L273.50,23.05 L274.00,22.52 L274.50,22.05 L275.00,21.66 L275.50,21.33 L276.00,21.07 L276.50,20.87 L277.00,20.74 L277.50,20.68 L278.00,20.69 L278.50,20.77 L279.00,20.91 L279.50,21.12 L280.00,21.40 L280.50,21.75 L281.00,22.16 L281.50,22.64 L282.00,23.18 L282.50,23.80 L283.00,24.47 L283.50,25.21 L284.00,26.02 L284.50,26.89 L285.00,27.82 L285.50,28.81 L286.00,29.86 L286.50,30.98 L287.00,32.15 L287.50,33.38 L288.00,34.67 L288.50,36.02 L289.00,37.42 L289.50,38.88 L290.00,40.39 L290.50,41.95 L291.00,43.56 L291.50,45.22 L292.00,46.93 L292.50,48.68 L293.00,50.48 L293.50,52.32 L294.00,54.21 L294.50,56.14 L295.00,58.10 L295.50,60.10 L296.00,62.14 L296.50,64.21 L297.00,66.32 L297.50,68.46 L298.00,70.62 L298.50,72.81 L299.00,75.03 L299.50,77.27 L300.00,79.54 L300.50,81.82 L301.00,84.12 L301.50,86.44 L302.00,88.77 L302.50,91.12 L303.00,93.48 L303.50,95.84 L304.00,98.21 L304.50,100.59 L305.00,102.97" fill="none" stroke="#1010ff" stroke-width="1.35" stroke-linejoin="round"/>
<line x1="216.5" y1="11.5" x2="240.9" y2="11.5" stroke="#1010ff" stroke-width="1.6"/>
<text transform="translate(244.00,15.60)" font-family="Liberation Serif" font-size="10.45" fill="#1a1a1a" stroke="#1a1a1a" stroke-width="0.1">BDV pure oil</text>
<line x1="27.3" y1="1.5" x2="305.3" y2="1.5" stroke="#555" stroke-width="1.1"/>
<line x1="305.3" y1="1.5" x2="305.3" y2="211" stroke="#444" stroke-width="1.1"/>
<line x1="29.3" y1="1.0" x2="29.3" y2="211" stroke="#262626" stroke-width="1.3"/>
<line x1="27.1" y1="207.5" x2="305.3" y2="207.5" stroke="#262626" stroke-width="1.3"/>
<line x1="26.80" y1="206.78" x2="29.3" y2="206.78" stroke="#262626" stroke-width="1.1"/>
<line x1="24.80" y1="195.40" x2="29.3" y2="195.40" stroke="#262626" stroke-width="1.1"/>
<line x1="26.80" y1="184.03" x2="29.3" y2="184.03" stroke="#262626" stroke-width="1.1"/>
<line x1="24.80" y1="172.65" x2="29.3" y2="172.65" stroke="#262626" stroke-width="1.1"/>
<line x1="26.80" y1="161.28" x2="29.3" y2="161.28" stroke="#262626" stroke-width="1.1"/>
<line x1="24.80" y1="149.90" x2="29.3" y2="149.90" stroke="#262626" stroke-width="1.1"/>
<line x1="26.80" y1="138.53" x2="29.3" y2="138.53" stroke="#262626" stroke-width="1.1"/>
<line x1="24.80" y1="127.15" x2="29.3" y2="127.15" stroke="#262626" stroke-width="1.1"/>
<line x1="26.80" y1="115.78" x2="29.3" y2="115.78" stroke="#262626" stroke-width="1.1"/>
<line x1="24.80" y1="104.40" x2="29.3" y2="104.40" stroke="#262626" stroke-width="1.1"/>
<line x1="26.80" y1="93.03" x2="29.3" y2="93.03" stroke="#262626" stroke-width="1.1"/>
<line x1="24.80" y1="81.65" x2="29.3" y2="81.65" stroke="#262626" stroke-width="1.1"/>
<line x1="26.80" y1="70.28" x2="29.3" y2="70.28" stroke="#262626" stroke-width="1.1"/>
<line x1="24.80" y1="58.90" x2="29.3" y2="58.90" stroke="#262626" stroke-width="1.1"/>
<line x1="26.80" y1="47.53" x2="29.3" y2="47.53" stroke="#262626" stroke-width="1.1"/>
<line x1="24.80" y1="36.15" x2="29.3" y2="36.15" stroke="#262626" stroke-width="1.1"/>
<line x1="26.80" y1="24.78" x2="29.3" y2="24.78" stroke="#262626" stroke-width="1.1"/>
<line x1="24.80" y1="13.40" x2="29.3" y2="13.40" stroke="#262626" stroke-width="1.1"/>
<line x1="26.80" y1="2.03" x2="29.3" y2="2.03" stroke="#262626" stroke-width="1.1"/>
<text transform="translate(22.40,198.90) scale(0.89,1)" text-anchor="end" font-family="Liberation Serif" font-size="11.5" fill="#1a1a1a" stroke="#1a1a1a" stroke-width="0.1">-20</text>
<text transform="translate(22.40,176.15) scale(0.89,1)" text-anchor="end" font-family="Liberation Serif" font-size="11.5" fill="#1a1a1a" stroke="#1a1a1a" stroke-width="0.1">-15</text>
<text transform="translate(22.40,153.40) scale(0.89,1)" text-anchor="end" font-family="Liberation Serif" font-size="11.5" fill="#1a1a1a" stroke="#1a1a1a" stroke-width="0.1">-10</text>
<text transform="translate(22.40,130.65) scale(0.89,1)" text-anchor="end" font-family="Liberation Serif" font-size="11.5" fill="#1a1a1a" stroke="#1a1a1a" stroke-width="0.1">-5</text>
<text transform="translate(22.40,107.90) scale(0.89,1)" text-anchor="end" font-family="Liberation Serif" font-size="11.5" fill="#1a1a1a" stroke="#1a1a1a" stroke-width="0.1">0</text>
<text transform="translate(22.40,85.15) scale(0.89,1)" text-anchor="end" font-family="Liberation Serif" font-size="11.5" fill="#1a1a1a" stroke="#1a1a1a" stroke-width="0.1">5</text>
<text transform="translate(22.40,62.40) scale(0.89,1)" text-anchor="end" font-family="Liberation Serif" font-size="11.5" fill="#1a1a1a" stroke="#1a1a1a" stroke-width="0.1">10</text>
<text transform="translate(22.40,39.65) scale(0.89,1)" text-anchor="end" font-family="Liberation Serif" font-size="11.5" fill="#1a1a1a" stroke="#1a1a1a" stroke-width="0.1">15</text>
<text transform="translate(22.40,16.90) scale(0.89,1)" text-anchor="end" font-family="Liberation Serif" font-size="11.5" fill="#1a1a1a" stroke="#1a1a1a" stroke-width="0.1">20</text>
<line x1="29.20" y1="207.5" x2="29.20" y2="211.10" stroke="#262626" stroke-width="1.1"/>
<line x1="56.81" y1="207.5" x2="56.81" y2="209.30" stroke="#262626" stroke-width="1.1"/>
<line x1="84.42" y1="207.5" x2="84.42" y2="211.10" stroke="#262626" stroke-width="1.1"/>
<line x1="112.03" y1="207.5" x2="112.03" y2="209.30" stroke="#262626" stroke-width="1.1"/>
<line x1="139.64" y1="207.5" x2="139.64" y2="211.10" stroke="#262626" stroke-width="1.1"/>
<line x1="167.25" y1="207.5" x2="167.25" y2="209.30" stroke="#262626" stroke-width="1.1"/>
<line x1="194.86" y1="207.5" x2="194.86" y2="211.10" stroke="#262626" stroke-width="1.1"/>
<line x1="222.47" y1="207.5" x2="222.47" y2="209.30" stroke="#262626" stroke-width="1.1"/>
<line x1="250.08" y1="207.5" x2="250.08" y2="211.10" stroke="#262626" stroke-width="1.1"/>
<line x1="277.69" y1="207.5" x2="277.69" y2="209.30" stroke="#262626" stroke-width="1.1"/>
<line x1="305.30" y1="207.5" x2="305.30" y2="211.10" stroke="#262626" stroke-width="1.1"/>
<text transform="translate(29.20,222.00) scale(0.89,1)" text-anchor="middle" font-family="Liberation Serif" font-size="11.5" fill="#1a1a1a" stroke="#1a1a1a" stroke-width="0.1">0,00</text>
<text transform="translate(84.42,222.00) scale(0.89,1)" text-anchor="middle" font-family="Liberation Serif" font-size="11.5" fill="#1a1a1a" stroke="#1a1a1a" stroke-width="0.1">0,01</text>
<text transform="translate(139.64,222.00) scale(0.89,1)" text-anchor="middle" font-family="Liberation Serif" font-size="11.5" fill="#1a1a1a" stroke="#1a1a1a" stroke-width="0.1">0,02</text>
<text transform="translate(194.86,222.00) scale(0.89,1)" text-anchor="middle" font-family="Liberation Serif" font-size="11.5" fill="#1a1a1a" stroke="#1a1a1a" stroke-width="0.1">0,03</text>
<text transform="translate(250.08,222.00) scale(0.89,1)" text-anchor="middle" font-family="Liberation Serif" font-size="11.5" fill="#1a1a1a" stroke="#1a1a1a" stroke-width="0.1">0,04</text>
<text transform="translate(305.30,222.00) scale(0.89,1)" text-anchor="middle" font-family="Liberation Serif" font-size="11.5" fill="#1a1a1a" stroke="#1a1a1a" stroke-width="0.1">0,05</text>
<text transform="translate(164.10,236.00)" text-anchor="middle" font-family="Liberation Serif" font-size="10.4" fill="#1a1a1a" stroke="#1a1a1a" stroke-width="0.1">Time (s)</text>
<text transform="translate(8.30,104.80) rotate(-90)" text-anchor="middle" font-family="Liberation Serif" font-size="10.6" fill="#1a1a1a" stroke="#1a1a1a" stroke-width="0.1">Amplitude (kV)</text>
<text transform="translate(160.60,256.60)" text-anchor="middle" font-family="Liberation Sans" font-size="15" fill="#1a1a1a">(a)</text>
<line x1="377.4" y1="187.5" x2="659.6" y2="187.5" stroke="#efefef" stroke-width="1"/>
<line x1="377.4" y1="164.5" x2="659.6" y2="164.5" stroke="#efefef" stroke-width="1"/>
<line x1="377.4" y1="140.5" x2="659.6" y2="140.5" stroke="#efefef" stroke-width="1"/>
<line x1="377.4" y1="117.5" x2="659.6" y2="117.5" stroke="#efefef" stroke-width="1"/>
<line x1="377.4" y1="93.5" x2="659.6" y2="93.5" stroke="#efefef" stroke-width="1"/>
<line x1="377.4" y1="70.5" x2="659.6" y2="70.5" stroke="#efefef" stroke-width="1"/>
<line x1="377.4" y1="47.5" x2="659.6" y2="47.5" stroke="#efefef" stroke-width="1"/>
<line x1="377.4" y1="23.5" x2="659.6" y2="23.5" stroke="#efefef" stroke-width="1"/>
<line x1="389.5" y1="0.5" x2="389.5" y2="210.3" stroke="#efefef" stroke-width="1"/>
<line x1="412.5" y1="0.5" x2="412.5" y2="210.3" stroke="#efefef" stroke-width="1"/>
<line x1="436.5" y1="0.5" x2="436.5" y2="210.3" stroke="#efefef" stroke-width="1"/>
<line x1="459.5" y1="0.5" x2="459.5" y2="210.3" stroke="#efefef" stroke-width="1"/>
<line x1="483.5" y1="0.5" x2="483.5" y2="210.3" stroke="#efefef" stroke-width="1"/>
<line x1="506.5" y1="0.5" x2="506.5" y2="210.3" stroke="#efefef" stroke-width="1"/>
<line x1="530.5" y1="0.5" x2="530.5" y2="210.3" stroke="#efefef" stroke-width="1"/>
<line x1="554.5" y1="0.5" x2="554.5" y2="210.3" stroke="#efefef" stroke-width="1"/>
<line x1="577.5" y1="0.5" x2="577.5" y2="210.3" stroke="#efefef" stroke-width="1"/>
<line x1="601.5" y1="0.5" x2="601.5" y2="210.3" stroke="#efefef" stroke-width="1"/>
<line x1="624.5" y1="0.5" x2="624.5" y2="210.3" stroke="#efefef" stroke-width="1"/>
<line x1="648.5" y1="0.5" x2="648.5" y2="210.3" stroke="#efefef" stroke-width="1"/>
<line x1="377.4" y1="199.5" x2="659.6" y2="199.5" stroke="#c6c6c6" stroke-width="1"/>
<line x1="377.4" y1="175.5" x2="659.6" y2="175.5" stroke="#c6c6c6" stroke-width="1"/>
<line x1="377.4" y1="152.5" x2="659.6" y2="152.5" stroke="#c6c6c6" stroke-width="1"/>
<line x1="377.4" y1="129.5" x2="659.6" y2="129.5" stroke="#c6c6c6" stroke-width="1"/>
<line x1="377.4" y1="105.5" x2="659.6" y2="105.5" stroke="#c6c6c6" stroke-width="1"/>
<line x1="377.4" y1="82.5" x2="659.6" y2="82.5" stroke="#c6c6c6" stroke-width="1"/>
<line x1="377.4" y1="58.5" x2="659.6" y2="58.5" stroke="#c6c6c6" stroke-width="1"/>
<line x1="377.4" y1="35.5" x2="659.6" y2="35.5" stroke="#c6c6c6" stroke-width="1"/>
<line x1="377.4" y1="12.5" x2="659.6" y2="12.5" stroke="#c6c6c6" stroke-width="1"/>
<line x1="401.5" y1="0.5" x2="401.5" y2="210.3" stroke="#c6c6c6" stroke-width="1"/>
<line x1="424.5" y1="0.5" x2="424.5" y2="210.3" stroke="#c6c6c6" stroke-width="1"/>
<line x1="448.5" y1="0.5" x2="448.5" y2="210.3" stroke="#c6c6c6" stroke-width="1"/>
<line x1="471.5" y1="0.5" x2="471.5" y2="210.3" stroke="#c6c6c6" stroke-width="1"/>
<line x1="495.5" y1="0.5" x2="495.5" y2="210.3" stroke="#c6c6c6" stroke-width="1"/>
<line x1="518.5" y1="0.5" x2="518.5" y2="210.3" stroke="#c6c6c6" stroke-width="1"/>
<line x1="542.5" y1="0.5" x2="542.5" y2="210.3" stroke="#c6c6c6" stroke-width="1"/>
<line x1="565.5" y1="0.5" x2="565.5" y2="210.3" stroke="#c6c6c6" stroke-width="1"/>
<line x1="589.5" y1="0.5" x2="589.5" y2="210.3" stroke="#c6c6c6" stroke-width="1"/>
<line x1="612.5" y1="0.5" x2="612.5" y2="210.3" stroke="#c6c6c6" stroke-width="1"/>
<line x1="636.5" y1="0.5" x2="636.5" y2="210.3" stroke="#c6c6c6" stroke-width="1"/>
<path d="M377.50,105.65 L379.07,102.80 L380.64,99.95 L382.21,97.11 L383.78,94.27 L385.35,91.45 L386.91,88.65 L388.48,85.87 L390.05,83.12 L391.62,80.39 L393.19,77.69 L394.76,75.03 L396.33,72.40 L397.90,69.81 L399.47,67.27 L401.04,64.78 L402.60,62.33 L404.17,59.94 L405.74,57.60 L407.31,55.32 L408.88,53.10 L410.45,50.95 L412.02,48.86 L413.59,46.85 L415.16,44.90 L416.73,43.03 L418.29,41.23 L419.86,39.52 L421.43,37.88 L423.00,36.33 L424.57,34.86 L426.14,33.47 L427.71,32.18 L429.28,30.97 L430.85,29.86 L432.42,28.83 L433.98,27.90 L435.55,27.07 L437.12,26.33 L438.69,25.69 L440.26,25.15 L441.83,24.70 L443.40,24.35 L444.97,24.10 L446.54,23.95 L448.11,23.90 L449.67,23.95 L451.24,24.10 L452.81,24.35 L454.38,24.70 L455.95,25.15 L457.52,25.69 L459.09,26.33 L460.66,27.07 L462.23,27.90 L463.80,28.83 L465.36,29.86 L466.93,30.97 L468.50,32.18 L470.07,33.47 L471.64,34.86 L473.21,36.33 L474.78,37.88 L476.35,39.52 L477.92,41.23 L479.49,43.03 L481.05,44.90 L482.62,46.85 L484.19,48.86 L485.76,50.95 L487.33,53.10 L488.90,55.32 L490.47,57.60 L492.04,59.94 L493.61,62.33 L495.18,64.78 L496.74,67.27 L498.31,69.81 L499.88,72.40 L501.45,75.03 L503.02,77.69 L504.59,80.39 L506.16,83.12 L507.73,85.87 L509.30,88.65 L510.87,91.45 L512.43,94.27 L514.00,97.11 L515.57,99.95 L517.14,102.80 L518.71,105.65 L520.28,108.50 L521.85,111.35 L523.42,114.19 L524.99,117.03 L526.56,119.85 L528.12,122.65 L529.69,125.43 L531.26,128.18 L532.83,130.91 L534.40,133.61 L535.97,136.27 L537.54,138.90 L539.11,141.49 L540.68,144.03 L542.25,146.52 L543.81,148.97 L545.38,151.36 L546.95,153.70 L548.52,155.98 L550.09,158.20 L551.66,160.35 L553.23,162.44 L554.80,164.45 L556.37,166.40 L557.93,168.27 L559.50,170.07 L561.07,171.78 L562.64,173.42 L564.21,174.97 L565.78,176.44 L567.35,177.83 L568.92,179.12 L570.49,180.33 L572.06,181.44 L573.62,182.47 L575.19,183.40 L576.76,184.23 L578.33,184.97 L579.90,185.61 L581.47,186.15 L583.04,186.60 L584.61,186.95 L586.18,187.20 L587.75,187.35 L589.32,187.40 L590.88,187.35 L592.45,187.20 L594.02,186.95 L595.59,186.60 L597.16,186.15 L598.73,185.61 L600.30,184.97 L601.87,184.23 L603.44,183.40 L605.00,182.47 L606.57,181.44 L608.14,180.33 L609.71,179.12 L611.28,177.83 L612.85,176.44 L614.42,174.97 L615.99,173.42 L617.56,171.78 L619.13,170.07 L620.69,168.27 L622.26,166.40 L623.83,164.45 L625.40,162.44 L626.97,160.35 L628.54,158.20 L630.11,155.98 L631.68,153.70 L633.25,151.36 L634.82,148.97 L636.38,146.52 L637.95,144.03 L639.52,141.49 L641.09,138.90 L642.66,136.27 L644.23,133.61 L645.80,130.91 L647.37,128.18 L648.94,125.43 L650.51,122.65 L652.08,119.85 L653.64,117.03 L655.21,114.19 L656.78,111.35 L658.35,108.50 L659.92,105.65" fill="none" stroke="#0a0aff" stroke-width="3.1" stroke-linejoin="round"/>
<circle cx="410.5" cy="77.5" r="2.35" fill="url(#g0)"/>
<circle cx="381.2" cy="83.6" r="2.35" fill="url(#g1)"/>
<circle cx="379.9" cy="80.4" r="2.35" fill="url(#g2)"/>
<circle cx="403.7" cy="97.1" r="2.35" fill="url(#g3)"/>
<circle cx="416.1" cy="102.3" r="2.35" fill="url(#g4)"/>
<circle cx="396.5" cy="96.7" r="2.35" fill="url(#g5)"/>
<circle cx="396.9" cy="86.9" r="2.35" fill="url(#g6)"/>
<circle cx="426.4" cy="91.7" r="2.35" fill="url(#g7)"/>
<circle cx="392.6" cy="86.4" r="2.35" fill="url(#g5)"/>
<circle cx="409.8" cy="99.2" r="2.35" fill="url(#g0)"/>
<circle cx="386.9" cy="82.8" r="2.35" fill="url(#g1)"/>
<circle cx="380.0" cy="90.4" r="2.35" fill="url(#g2)"/>
<circle cx="420.3" cy="87.3" r="2.35" fill="url(#g8)"/>
<circle cx="413.2" cy="81.4" r="2.35" fill="url(#g0)"/>
<circle cx="429.2" cy="102.1" r="2.35" fill="url(#g9)"/>
<circle cx="406.7" cy="90.2" r="2.35" fill="url(#g3)"/>
<circle cx="401.3" cy="90.4" r="2.35" fill="url(#g10)"/>
<circle cx="381.2" cy="94.6" r="2.35" fill="url(#g1)"/>
<circle cx="427.9" cy="98.7" r="2.35" fill="url(#g9)"/>
<circle cx="394.7" cy="79.7" r="2.35" fill="url(#g5)"/>
<circle cx="399.6" cy="99.6" r="2.35" fill="url(#g10)"/>
<circle cx="391.9" cy="82.6" r="2.35" fill="url(#g5)"/>
<circle cx="400.3" cy="86.1" r="2.35" fill="url(#g10)"/>
<circle cx="409.3" cy="88.2" r="2.35" fill="url(#g0)"/>
<circle cx="431.3" cy="95.9" r="2.35" fill="url(#g11)"/>
<circle cx="401.7" cy="79.0" r="2.35" fill="url(#g10)"/>
<circle cx="384.0" cy="89.0" r="2.35" fill="url(#g1)"/>
<circle cx="383.8" cy="77.5" r="2.35" fill="url(#g1)"/>
<circle cx="379.2" cy="99.2" r="2.35" fill="url(#g2)"/>
<circle cx="406.2" cy="82.6" r="2.35" fill="url(#g3)"/>
<circle cx="379.0" cy="102.4" r="2.35" fill="url(#g2)"/>
<circle cx="410.0" cy="103.6" r="2.35" fill="url(#g0)"/>
<circle cx="387.9" cy="94.8" r="2.35" fill="url(#g1)"/>
<circle cx="410.3" cy="95.1" r="2.35" fill="url(#g0)"/>
<circle cx="393.5" cy="91.4" r="2.35" fill="url(#g5)"/>
<circle cx="435.1" cy="104.0" r="2.35" fill="url(#g12)"/>
<circle cx="417.7" cy="96.0" r="2.35" fill="url(#g4)"/>
<circle cx="402.2" cy="102.2" r="2.35" fill="url(#g10)"/>
<circle cx="385.6" cy="100.7" r="2.35" fill="url(#g1)"/>
<circle cx="399.3" cy="81.5" r="2.35" fill="url(#g10)"/>
<circle cx="413.4" cy="100.4" r="2.35" fill="url(#g0)"/>
<circle cx="377.8" cy="96.0" r="2.35" fill="url(#g2)"/>
<circle cx="384.1" cy="85.8" r="2.35" fill="url(#g1)"/>
<circle cx="407.0" cy="102.0" r="2.35" fill="url(#g3)"/>
<circle cx="420.5" cy="99.3" r="2.35" fill="url(#g8)"/>
<circle cx="391.1" cy="102.5" r="2.35" fill="url(#g5)"/>
<circle cx="378.7" cy="76.1" r="2.35" fill="url(#g2)"/>
<circle cx="415.9" cy="83.8" r="2.35" fill="url(#g4)"/>
<circle cx="381.5" cy="103.9" r="2.35" fill="url(#g1)"/>
<circle cx="426.0" cy="103.3" r="2.35" fill="url(#g7)"/>
<circle cx="412.6" cy="91.8" r="2.35" fill="url(#g0)"/>
<circle cx="382.7" cy="98.4" r="2.35" fill="url(#g1)"/>
<circle cx="405.5" cy="76.4" r="2.35" fill="url(#g3)"/>
<circle cx="419.8" cy="103.8" r="2.35" fill="url(#g8)"/>
<circle cx="422.7" cy="96.5" r="2.35" fill="url(#g13)"/>
<circle cx="419.5" cy="91.5" r="2.35" fill="url(#g8)"/>
<circle cx="416.1" cy="90.9" r="2.35" fill="url(#g4)"/>
<circle cx="409.3" cy="81.7" r="2.35" fill="url(#g0)"/>
<circle cx="437.7" cy="101.8" r="2.35" fill="url(#g14)"/>
<circle cx="377.8" cy="82.9" r="2.35" fill="url(#g2)"/>
<circle cx="395.1" cy="101.8" r="2.35" fill="url(#g5)"/>
<circle cx="403.0" cy="84.3" r="2.35" fill="url(#g3)"/>
<circle cx="391.2" cy="94.3" r="2.35" fill="url(#g5)"/>
<circle cx="432.7" cy="99.6" r="2.35" fill="url(#g11)"/>
<circle cx="389.5" cy="77.5" r="2.35" fill="url(#g1)"/>
<circle cx="428.1" cy="94.8" r="2.35" fill="url(#g9)"/>
<circle cx="397.2" cy="77.4" r="2.35" fill="url(#g6)"/>
<circle cx="431.8" cy="104.0" r="2.35" fill="url(#g11)"/>
<circle cx="383.2" cy="80.8" r="2.35" fill="url(#g1)"/>
<circle cx="399.7" cy="94.5" r="2.35" fill="url(#g10)"/>
<circle cx="404.4" cy="92.8" r="2.35" fill="url(#g3)"/>
<circle cx="390.6" cy="88.5" r="2.35" fill="url(#g1)"/>
<circle cx="400.2" cy="75.6" r="2.35" fill="url(#g10)"/>
<circle cx="387.1" cy="97.8" r="2.35" fill="url(#g1)"/>
<circle cx="385.1" cy="103.8" r="2.35" fill="url(#g1)"/>
<circle cx="406.4" cy="85.9" r="2.35" fill="url(#g3)"/>
<circle cx="377.8" cy="92.7" r="2.35" fill="url(#g2)"/>
<circle cx="389.7" cy="91.4" r="2.35" fill="url(#g1)"/>
<circle cx="397.9" cy="103.7" r="2.35" fill="url(#g6)"/>
<circle cx="396.7" cy="93.0" r="2.35" fill="url(#g6)"/>
<circle cx="393.0" cy="96.7" r="2.35" fill="url(#g5)"/>
<circle cx="378.7" cy="87.5" r="2.35" fill="url(#g2)"/>
<circle cx="416.3" cy="87.6" r="2.35" fill="url(#g4)"/>
<circle cx="422.7" cy="92.3" r="2.35" fill="url(#g13)"/>
<circle cx="384.4" cy="95.6" r="2.35" fill="url(#g1)"/>
<circle cx="422.9" cy="102.3" r="2.35" fill="url(#g13)"/>
<circle cx="389.0" cy="85.6" r="2.35" fill="url(#g1)"/>
<circle cx="413.2" cy="104.0" r="2.35" fill="url(#g0)"/>
<circle cx="390.5" cy="99.6" r="2.35" fill="url(#g1)"/>
<circle cx="411.0" cy="85.3" r="2.35" fill="url(#g0)"/>
<circle cx="407.0" cy="95.9" r="2.35" fill="url(#g3)"/>
<circle cx="381.1" cy="69.6" r="2.35" fill="url(#g1)"/>
<circle cx="414.2" cy="95.3" r="2.35" fill="url(#g4)"/>
<circle cx="383.3" cy="92.5" r="2.35" fill="url(#g1)"/>
<circle cx="381.9" cy="64.9" r="2.35" fill="url(#g1)"/>
<circle cx="403.6" cy="87.6" r="2.35" fill="url(#g3)"/>
<circle cx="388.8" cy="104.1" r="2.35" fill="url(#g1)"/>
<circle cx="424.5" cy="99.1" r="2.35" fill="url(#g7)"/>
<circle cx="396.1" cy="82.7" r="2.35" fill="url(#g5)"/>
<circle cx="412.9" cy="88.5" r="2.35" fill="url(#g0)"/>
<circle cx="386.9" cy="79.6" r="2.35" fill="url(#g1)"/>
<circle cx="393.3" cy="104.4" r="2.35" fill="url(#g5)"/>
<circle cx="383.9" cy="71.2" r="2.35" fill="url(#g1)"/>
<circle cx="381.5" cy="86.9" r="2.35" fill="url(#g1)"/>
<circle cx="382.9" cy="101.3" r="2.35" fill="url(#g1)"/>
<circle cx="404.8" cy="104.4" r="2.35" fill="url(#g3)"/>
<circle cx="407.6" cy="78.9" r="2.35" fill="url(#g3)"/>
<circle cx="398.1" cy="90.1" r="2.35" fill="url(#g6)"/>
<circle cx="550.3" cy="108.7" r="2.35" fill="url(#g15)"/>
<circle cx="526.0" cy="111.7" r="2.35" fill="url(#g16)"/>
<circle cx="522.5" cy="133.5" r="2.35" fill="url(#g16)"/>
<circle cx="489.3" cy="112.7" r="2.35" fill="url(#g17)"/>
<circle cx="487.5" cy="118.9" r="2.35" fill="url(#g18)"/>
<circle cx="469.1" cy="108.2" r="2.35" fill="url(#g19)"/>
<circle cx="523.6" cy="124.4" r="2.35" fill="url(#g16)"/>
<circle cx="471.2" cy="120.2" r="2.35" fill="url(#g20)"/>
<circle cx="465.9" cy="107.7" r="2.35" fill="url(#g19)"/>
<circle cx="482.4" cy="128.8" r="2.35" fill="url(#g21)"/>
<circle cx="563.0" cy="109.7" r="2.35" fill="url(#g22)"/>
<circle cx="552.2" cy="113.5" r="2.35" fill="url(#g15)"/>
<circle cx="532.0" cy="119.7" r="2.35" fill="url(#g23)"/>
<circle cx="536.2" cy="116.4" r="2.35" fill="url(#g24)"/>
<circle cx="503.3" cy="126.4" r="2.35" fill="url(#g25)"/>
<circle cx="511.9" cy="123.8" r="2.35" fill="url(#g26)"/>
<circle cx="478.5" cy="124.8" r="2.35" fill="url(#g27)"/>
<circle cx="535.7" cy="108.3" r="2.35" fill="url(#g24)"/>
<circle cx="481.1" cy="117.1" r="2.35" fill="url(#g21)"/>
<circle cx="559.2" cy="119.4" r="2.35" fill="url(#g22)"/>
<circle cx="515.2" cy="141.1" r="2.35" fill="url(#g28)"/>
<circle cx="557.3" cy="113.2" r="2.35" fill="url(#g22)"/>
<circle cx="485.3" cy="113.9" r="2.35" fill="url(#g18)"/>
<circle cx="513.7" cy="135.9" r="2.35" fill="url(#g28)"/>
<circle cx="507.5" cy="134.2" r="2.35" fill="url(#g26)"/>
<circle cx="518.7" cy="127.0" r="2.35" fill="url(#g29)"/>
<circle cx="542.5" cy="112.6" r="2.35" fill="url(#g30)"/>
<circle cx="528.0" cy="113.7" r="2.35" fill="url(#g31)"/>
<circle cx="521.1" cy="136.6" r="2.35" fill="url(#g29)"/>
<circle cx="498.3" cy="108.3" r="2.35" fill="url(#g32)"/>
<circle cx="483.0" cy="112.1" r="2.35" fill="url(#g21)"/>
<circle cx="567.8" cy="114.0" r="2.35" fill="url(#g22)"/>
<circle cx="517.4" cy="114.9" r="2.35" fill="url(#g29)"/>
<circle cx="503.1" cy="132.8" r="2.35" fill="url(#g25)"/>
<circle cx="532.2" cy="114.4" r="2.35" fill="url(#g23)"/>
<circle cx="519.6" cy="121.5" r="2.35" fill="url(#g29)"/>
<circle cx="512.9" cy="112.1" r="2.35" fill="url(#g28)"/>
<circle cx="500.1" cy="118.8" r="2.35" fill="url(#g32)"/>
<circle cx="491.2" cy="110.5" r="2.35" fill="url(#g17)"/>
<circle cx="514.2" cy="129.5" r="2.35" fill="url(#g28)"/>
<circle cx="519.7" cy="111.5" r="2.35" fill="url(#g29)"/>
<circle cx="553.1" cy="109.6" r="2.35" fill="url(#g15)"/>
<circle cx="537.3" cy="121.7" r="2.35" fill="url(#g24)"/>
<circle cx="508.3" cy="129.5" r="2.35" fill="url(#g26)"/>
<circle cx="533.3" cy="112.0" r="2.35" fill="url(#g23)"/>
<circle cx="515.1" cy="122.9" r="2.35" fill="url(#g28)"/>
<circle cx="566.8" cy="116.7" r="2.35" fill="url(#g22)"/>
<circle cx="486.8" cy="127.4" r="2.35" fill="url(#g18)"/>
<circle cx="570.8" cy="108.0" r="2.35" fill="url(#g22)"/>
<circle cx="544.0" cy="126.6" r="2.35" fill="url(#g30)"/>
<circle cx="502.2" cy="114.6" r="2.35" fill="url(#g32)"/>
<circle cx="490.0" cy="116.5" r="2.35" fill="url(#g17)"/>
<circle cx="544.3" cy="118.8" r="2.35" fill="url(#g33)"/>
<circle cx="494.8" cy="110.3" r="2.35" fill="url(#g34)"/>
<circle cx="561.8" cy="116.6" r="2.35" fill="url(#g22)"/>
<circle cx="554.9" cy="121.9" r="2.35" fill="url(#g22)"/>
<circle cx="505.3" cy="122.3" r="2.35" fill="url(#g25)"/>
<circle cx="496.1" cy="130.2" r="2.35" fill="url(#g34)"/>
<circle cx="524.2" cy="121.5" r="2.35" fill="url(#g16)"/>
<circle cx="475.1" cy="122.0" r="2.35" fill="url(#g27)"/>
<circle cx="514.0" cy="116.7" r="2.35" fill="url(#g28)"/>
<circle cx="481.9" cy="108.0" r="2.35" fill="url(#g21)"/>
<circle cx="473.7" cy="108.1" r="2.35" fill="url(#g20)"/>
<circle cx="488.6" cy="122.9" r="2.35" fill="url(#g17)"/>
<circle cx="545.6" cy="112.9" r="2.35" fill="url(#g35)"/>
<circle cx="530.9" cy="109.2" r="2.35" fill="url(#g23)"/>
<circle cx="567.8" cy="108.1" r="2.35" fill="url(#g22)"/>
<circle cx="492.2" cy="118.6" r="2.35" fill="url(#g17)"/>
<circle cx="469.2" cy="117.9" r="2.35" fill="url(#g19)"/>
<circle cx="501.5" cy="107.9" r="2.35" fill="url(#g32)"/>
<circle cx="504.2" cy="108.6" r="2.35" fill="url(#g25)"/>
<circle cx="545.9" cy="110.2" r="2.35" fill="url(#g35)"/>
<circle cx="503.8" cy="116.9" r="2.35" fill="url(#g25)"/>
<circle cx="517.8" cy="133.6" r="2.35" fill="url(#g29)"/>
<circle cx="486.6" cy="110.9" r="2.35" fill="url(#g18)"/>
<circle cx="525.1" cy="127.7" r="2.35" fill="url(#g16)"/>
<circle cx="497.1" cy="117.9" r="2.35" fill="url(#g34)"/>
<circle cx="469.6" cy="114.5" r="2.35" fill="url(#g19)"/>
<circle cx="496.9" cy="114.4" r="2.35" fill="url(#g34)"/>
<circle cx="555.4" cy="117.3" r="2.35" fill="url(#g22)"/>
<circle cx="511.5" cy="115.8" r="2.35" fill="url(#g26)"/>
<circle cx="541.4" cy="108.6" r="2.35" fill="url(#g30)"/>
<circle cx="516.4" cy="112.2" r="2.35" fill="url(#g28)"/>
<circle cx="471.9" cy="110.3" r="2.35" fill="url(#g20)"/>
<circle cx="514.0" cy="119.7" r="2.35" fill="url(#g28)"/>
<circle cx="572.1" cy="112.2" r="2.35" fill="url(#g22)"/>
<circle cx="530.1" cy="116.1" r="2.35" fill="url(#g31)"/>
<circle cx="498.6" cy="132.8" r="2.35" fill="url(#g32)"/>
<circle cx="507.0" cy="113.2" r="2.35" fill="url(#g25)"/>
<circle cx="574.8" cy="108.2" r="2.35" fill="url(#g22)"/>
<circle cx="493.7" cy="115.9" r="2.35" fill="url(#g34)"/>
<circle cx="565.6" cy="110.3" r="2.35" fill="url(#g22)"/>
<circle cx="566.5" cy="122.2" r="2.35" fill="url(#g22)"/>
<circle cx="578.0" cy="109.0" r="2.35" fill="url(#g36)"/>
<circle cx="476.9" cy="115.8" r="2.35" fill="url(#g27)"/>
<circle cx="506.7" cy="109.9" r="2.35" fill="url(#g25)"/>
<circle cx="514.7" cy="109.3" r="2.35" fill="url(#g28)"/>
<circle cx="462.3" cy="110.2" r="2.35" fill="url(#g37)"/>
<circle cx="500.4" cy="129.7" r="2.35" fill="url(#g32)"/>
<circle cx="527.5" cy="131.3" r="2.35" fill="url(#g31)"/>
<circle cx="561.1" cy="126.6" r="2.35" fill="url(#g22)"/>
<circle cx="510.4" cy="119.4" r="2.35" fill="url(#g26)"/>
<circle cx="497.6" cy="123.3" r="2.35" fill="url(#g34)"/>
<circle cx="549.0" cy="122.6" r="2.35" fill="url(#g35)"/>
<circle cx="518.7" cy="119.0" r="2.35" fill="url(#g29)"/>
<circle cx="478.9" cy="108.0" r="2.35" fill="url(#g27)"/>
<circle cx="522.8" cy="108.4" r="2.35" fill="url(#g16)"/>
<circle cx="539.2" cy="112.4" r="2.35" fill="url(#g24)"/>
<circle cx="521.8" cy="114.7" r="2.35" fill="url(#g16)"/>
<circle cx="509.6" cy="110.7" r="2.35" fill="url(#g26)"/>
<circle cx="483.4" cy="120.3" r="2.35" fill="url(#g21)"/>
<circle cx="517.5" cy="109.2" r="2.35" fill="url(#g29)"/>
<circle cx="532.2" cy="123.6" r="2.35" fill="url(#g23)"/>
<circle cx="507.4" cy="126.5" r="2.35" fill="url(#g26)"/>
<circle cx="539.4" cy="115.8" r="2.35" fill="url(#g24)"/>
<circle cx="550.9" cy="117.2" r="2.35" fill="url(#g15)"/>
<circle cx="490.3" cy="132.0" r="2.35" fill="url(#g17)"/>
<circle cx="563.6" cy="121.1" r="2.35" fill="url(#g22)"/>
<circle cx="512.2" cy="139.3" r="2.35" fill="url(#g28)"/>
<circle cx="558.1" cy="110.6" r="2.35" fill="url(#g22)"/>
<circle cx="475.9" cy="112.1" r="2.35" fill="url(#g27)"/>
<circle cx="500.0" cy="137.9" r="2.35" fill="url(#g32)"/>
<circle cx="493.5" cy="126.1" r="2.35" fill="url(#g34)"/>
<circle cx="502.1" cy="121.6" r="2.35" fill="url(#g32)"/>
<circle cx="494.6" cy="120.3" r="2.35" fill="url(#g34)"/>
<circle cx="479.5" cy="112.4" r="2.35" fill="url(#g21)"/>
<circle cx="507.1" cy="116.9" r="2.35" fill="url(#g25)"/>
<circle cx="525.2" cy="136.4" r="2.35" fill="url(#g16)"/>
<circle cx="564.4" cy="125.0" r="2.35" fill="url(#g22)"/>
<circle cx="540.9" cy="123.3" r="2.35" fill="url(#g30)"/>
<circle cx="474.2" cy="118.5" r="2.35" fill="url(#g20)"/>
<circle cx="505.9" cy="119.5" r="2.35" fill="url(#g25)"/>
<circle cx="486.1" cy="121.9" r="2.35" fill="url(#g18)"/>
<circle cx="536.2" cy="124.7" r="2.35" fill="url(#g24)"/>
<circle cx="560.1" cy="107.6" r="2.35" fill="url(#g22)"/>
<circle cx="508.3" cy="123.4" r="2.35" fill="url(#g26)"/>
<circle cx="544.4" cy="123.4" r="2.35" fill="url(#g33)"/>
<circle cx="485.7" cy="107.9" r="2.35" fill="url(#g18)"/>
<circle cx="557.2" cy="126.5" r="2.35" fill="url(#g22)"/>
<circle cx="491.7" cy="128.8" r="2.35" fill="url(#g17)"/>
<circle cx="495.6" cy="107.7" r="2.35" fill="url(#g34)"/>
<circle cx="559.8" cy="114.1" r="2.35" fill="url(#g22)"/>
<circle cx="549.8" cy="112.0" r="2.35" fill="url(#g15)"/>
<circle cx="502.5" cy="110.9" r="2.35" fill="url(#g32)"/>
<circle cx="548.1" cy="119.1" r="2.35" fill="url(#g35)"/>
<circle cx="569.0" cy="111.4" r="2.35" fill="url(#g22)"/>
<circle cx="546.6" cy="116.2" r="2.35" fill="url(#g35)"/>
<circle cx="555.0" cy="111.9" r="2.35" fill="url(#g22)"/>
<circle cx="570.6" cy="115.0" r="2.35" fill="url(#g22)"/>
<circle cx="552.6" cy="119.7" r="2.35" fill="url(#g15)"/>
<circle cx="467.0" cy="114.5" r="2.35" fill="url(#g19)"/>
<circle cx="535.8" cy="111.3" r="2.35" fill="url(#g24)"/>
<circle cx="491.9" cy="113.5" r="2.35" fill="url(#g17)"/>
<circle cx="493.7" cy="133.8" r="2.35" fill="url(#g34)"/>
<circle cx="556.4" cy="108.1" r="2.35" fill="url(#g22)"/>
<circle cx="505.0" cy="136.8" r="2.35" fill="url(#g25)"/>
<circle cx="466.9" cy="111.2" r="2.35" fill="url(#g19)"/>
<circle cx="528.0" cy="107.7" r="2.35" fill="url(#g31)"/>
<circle cx="477.4" cy="120.7" r="2.35" fill="url(#g27)"/>
<circle cx="484.0" cy="126.1" r="2.35" fill="url(#g18)"/>
<circle cx="549.5" cy="127.6" r="2.35" fill="url(#g15)"/>
<circle cx="552.4" cy="124.9" r="2.35" fill="url(#g15)"/>
<circle cx="560.7" cy="121.7" r="2.35" fill="url(#g22)"/>
<circle cx="473.2" cy="113.8" r="2.35" fill="url(#g20)"/>
<circle cx="542.4" cy="115.4" r="2.35" fill="url(#g30)"/>
<circle cx="536.8" cy="118.9" r="2.35" fill="url(#g24)"/>
<circle cx="539.8" cy="120.3" r="2.35" fill="url(#g24)"/>
<circle cx="520.1" cy="140.4" r="2.35" fill="url(#g29)"/>
<circle cx="557.7" cy="123.4" r="2.35" fill="url(#g22)"/>
<circle cx="500.5" cy="124.8" r="2.35" fill="url(#g32)"/>
<circle cx="523.7" cy="139.7" r="2.35" fill="url(#g16)"/>
<circle cx="481.4" cy="123.7" r="2.35" fill="url(#g21)"/>
<circle cx="499.5" cy="112.7" r="2.35" fill="url(#g32)"/>
<circle cx="540.9" cy="127.8" r="2.35" fill="url(#g30)"/>
<circle cx="547.1" cy="125.5" r="2.35" fill="url(#g35)"/>
<circle cx="493.1" cy="108.3" r="2.35" fill="url(#g17)"/>
<circle cx="520.1" cy="108.1" r="2.35" fill="url(#g29)"/>
<circle cx="484.0" cy="117.0" r="2.35" fill="url(#g18)"/>
<circle cx="493.1" cy="123.0" r="2.35" fill="url(#g17)"/>
<circle cx="512.0" cy="132.7" r="2.35" fill="url(#g26)"/>
<circle cx="551.5" cy="122.1" r="2.35" fill="url(#g15)"/>
<circle cx="515.6" cy="126.0" r="2.35" fill="url(#g28)"/>
<circle cx="538.0" cy="109.8" r="2.35" fill="url(#g24)"/>
<circle cx="490.0" cy="125.9" r="2.35" fill="url(#g17)"/>
<circle cx="472.4" cy="116.4" r="2.35" fill="url(#g20)"/>
<circle cx="544.6" cy="107.6" r="2.35" fill="url(#g35)"/>
<circle cx="564.7" cy="114.7" r="2.35" fill="url(#g22)"/>
<circle cx="534.6" cy="121.8" r="2.35" fill="url(#g23)"/>
<circle cx="488.8" cy="108.2" r="2.35" fill="url(#g17)"/>
<circle cx="499.7" cy="116.0" r="2.35" fill="url(#g32)"/>
<circle cx="546.5" cy="121.5" r="2.35" fill="url(#g35)"/>
<circle cx="522.0" cy="128.8" r="2.35" fill="url(#g16)"/>
<circle cx="511.4" cy="108.3" r="2.35" fill="url(#g26)"/>
<circle cx="516.6" cy="137.9" r="2.35" fill="url(#g28)"/>
<circle cx="529.5" cy="120.7" r="2.35" fill="url(#g31)"/>
<circle cx="504.9" cy="129.5" r="2.35" fill="url(#g25)"/>
<circle cx="511.4" cy="127.9" r="2.35" fill="url(#g26)"/>
<circle cx="560.7" cy="111.6" r="2.35" fill="url(#g22)"/>
<circle cx="486.8" cy="116.0" r="2.35" fill="url(#g18)"/>
<circle cx="533.0" cy="117.0" r="2.35" fill="url(#g23)"/>
<circle cx="530.0" cy="112.0" r="2.35" fill="url(#g31)"/>
<circle cx="480.4" cy="119.7" r="2.35" fill="url(#g21)"/>
<circle cx="509.9" cy="113.5" r="2.35" fill="url(#g26)"/>
<circle cx="509.5" cy="137.2" r="2.35" fill="url(#g26)"/>
<circle cx="522.5" cy="118.0" r="2.35" fill="url(#g16)"/>
<circle cx="482.4" cy="114.7" r="2.35" fill="url(#g21)"/>
<circle cx="558.7" cy="116.5" r="2.35" fill="url(#g22)"/>
<circle cx="490.9" cy="121.3" r="2.35" fill="url(#g17)"/>
<circle cx="575.2" cy="111.6" r="2.35" fill="url(#g22)"/>
<circle cx="563.6" cy="112.4" r="2.35" fill="url(#g22)"/>
<circle cx="497.9" cy="127.5" r="2.35" fill="url(#g32)"/>
<circle cx="542.4" cy="120.9" r="2.35" fill="url(#g30)"/>
<circle cx="537.3" cy="128.1" r="2.35" fill="url(#g24)"/>
<circle cx="508.8" cy="108.2" r="2.35" fill="url(#g26)"/>
<circle cx="525.4" cy="108.0" r="2.35" fill="url(#g16)"/>
<circle cx="549.7" cy="114.7" r="2.35" fill="url(#g15)"/>
<circle cx="527.6" cy="117.1" r="2.35" fill="url(#g31)"/>
<circle cx="476.2" cy="109.4" r="2.35" fill="url(#g27)"/>
<circle cx="541.0" cy="117.9" r="2.35" fill="url(#g30)"/>
<circle cx="554.8" cy="114.7" r="2.35" fill="url(#g22)"/>
<circle cx="547.6" cy="107.8" r="2.35" fill="url(#g35)"/>
<circle cx="526.6" cy="122.7" r="2.35" fill="url(#g31)"/>
<circle cx="564.1" cy="118.4" r="2.35" fill="url(#g22)"/>
<circle cx="461.0" cy="107.7" r="2.35" fill="url(#g38)"/>
<circle cx="485.3" cy="130.9" r="2.35" fill="url(#g18)"/>
<circle cx="569.2" cy="117.5" r="2.35" fill="url(#g22)"/>
<circle cx="497.4" cy="120.7" r="2.35" fill="url(#g34)"/>
<circle cx="556.6" cy="119.7" r="2.35" fill="url(#g22)"/>
<circle cx="520.1" cy="116.8" r="2.35" fill="url(#g29)"/>
<circle cx="566.5" cy="119.6" r="2.35" fill="url(#g22)"/>
<circle cx="464.6" cy="112.5" r="2.35" fill="url(#g37)"/>
<circle cx="531.4" cy="131.5" r="2.35" fill="url(#g23)"/>
<circle cx="494.7" cy="113.0" r="2.35" fill="url(#g34)"/>
<circle cx="478.2" cy="118.1" r="2.35" fill="url(#g27)"/>
<circle cx="520.5" cy="124.5" r="2.35" fill="url(#g29)"/>
<circle cx="639.0" cy="101.2" r="2.35" fill="url(#g39)"/>
<circle cx="614.7" cy="104.5" r="2.35" fill="url(#g40)"/>
<circle cx="619.7" cy="104.1" r="2.35" fill="url(#g41)"/>
<circle cx="631.7" cy="87.2" r="2.35" fill="url(#g42)"/>
<circle cx="640.5" cy="91.1" r="2.35" fill="url(#g39)"/>
<circle cx="656.6" cy="97.8" r="2.35" fill="url(#g43)"/>
<circle cx="640.9" cy="95.1" r="2.35" fill="url(#g44)"/>
<circle cx="654.6" cy="101.1" r="2.35" fill="url(#g43)"/>
<circle cx="654.1" cy="91.8" r="2.35" fill="url(#g43)"/>
<circle cx="643.7" cy="103.1" r="2.35" fill="url(#g44)"/>
<circle cx="635.6" cy="93.5" r="2.35" fill="url(#g45)"/>
<circle cx="658.6" cy="101.0" r="2.35" fill="url(#g43)"/>
<circle cx="622.9" cy="91.0" r="2.35" fill="url(#g46)"/>
<circle cx="627.1" cy="102.9" r="2.35" fill="url(#g47)"/>
<circle cx="624.0" cy="84.5" r="2.35" fill="url(#g48)"/>
<circle cx="623.9" cy="101.9" r="2.35" fill="url(#g48)"/>
<circle cx="621.2" cy="85.9" r="2.35" fill="url(#g46)"/>
<circle cx="651.3" cy="92.3" r="2.35" fill="url(#g49)"/>
<circle cx="616.4" cy="89.7" r="2.35" fill="url(#g40)"/>
<circle cx="620.2" cy="98.9" r="2.35" fill="url(#g41)"/>
<circle cx="635.5" cy="81.4" r="2.35" fill="url(#g45)"/>
<circle cx="645.9" cy="92.0" r="2.35" fill="url(#g50)"/>
<circle cx="631.0" cy="100.5" r="2.35" fill="url(#g51)"/>
<circle cx="611.7" cy="94.9" r="2.35" fill="url(#g52)"/>
<circle cx="626.7" cy="98.5" r="2.35" fill="url(#g47)"/>
<circle cx="644.1" cy="85.8" r="2.35" fill="url(#g44)"/>
<circle cx="633.0" cy="97.0" r="2.35" fill="url(#g42)"/>
<circle cx="618.1" cy="86.4" r="2.35" fill="url(#g41)"/>
<circle cx="639.7" cy="85.8" r="2.35" fill="url(#g39)"/>
<circle cx="649.5" cy="85.2" r="2.35" fill="url(#g49)"/>
<circle cx="645.3" cy="99.2" r="2.35" fill="url(#g50)"/>
<circle cx="616.1" cy="98.8" r="2.35" fill="url(#g40)"/>
<circle cx="653.7" cy="98.0" r="2.35" fill="url(#g49)"/>
<circle cx="649.5" cy="89.2" r="2.35" fill="url(#g49)"/>
<circle cx="608.8" cy="102.7" r="2.35" fill="url(#g0)"/>
<circle cx="627.5" cy="86.9" r="2.35" fill="url(#g47)"/>
<circle cx="623.3" cy="96.0" r="2.35" fill="url(#g48)"/>
<circle cx="630.9" cy="93.3" r="2.35" fill="url(#g51)"/>
<circle cx="627.4" cy="91.6" r="2.35" fill="url(#g47)"/>
<circle cx="646.6" cy="96.6" r="2.35" fill="url(#g50)"/>
<circle cx="618.1" cy="94.9" r="2.35" fill="url(#g41)"/>
<circle cx="656.1" cy="88.7" r="2.35" fill="url(#g43)"/>
<circle cx="658.7" cy="104.0" r="2.35" fill="url(#g43)"/>
<circle cx="608.2" cy="95.3" r="2.35" fill="url(#g0)"/>
<circle cx="653.5" cy="85.9" r="2.35" fill="url(#g49)"/>
<circle cx="635.6" cy="88.2" r="2.35" fill="url(#g45)"/>
<circle cx="655.7" cy="94.5" r="2.35" fill="url(#g43)"/>
<circle cx="650.5" cy="99.1" r="2.35" fill="url(#g49)"/>
<circle cx="657.0" cy="83.4" r="2.35" fill="url(#g43)"/>
<circle cx="637.7" cy="97.2" r="2.35" fill="url(#g39)"/>
<circle cx="606.3" cy="104.0" r="2.35" fill="url(#g3)"/>
<circle cx="606.6" cy="99.0" r="2.35" fill="url(#g3)"/>
<circle cx="612.7" cy="101.9" r="2.35" fill="url(#g52)"/>
<circle cx="658.7" cy="86.5" r="2.35" fill="url(#g43)"/>
<circle cx="638.3" cy="104.1" r="2.35" fill="url(#g39)"/>
<circle cx="623.7" cy="99.0" r="2.35" fill="url(#g48)"/>
<circle cx="647.6" cy="82.6" r="2.35" fill="url(#g50)"/>
<circle cx="634.6" cy="101.9" r="2.35" fill="url(#g45)"/>
<circle cx="609.7" cy="98.9" r="2.35" fill="url(#g0)"/>
<circle cx="643.6" cy="90.3" r="2.35" fill="url(#g44)"/>
<circle cx="643.7" cy="94.5" r="2.35" fill="url(#g44)"/>
<circle cx="613.1" cy="97.4" r="2.35" fill="url(#g52)"/>
<circle cx="633.2" cy="91.2" r="2.35" fill="url(#g42)"/>
<circle cx="656.7" cy="80.2" r="2.35" fill="url(#g43)"/>
<circle cx="650.1" cy="102.4" r="2.35" fill="url(#g49)"/>
<circle cx="648.4" cy="93.8" r="2.35" fill="url(#g50)"/>
<circle cx="635.0" cy="84.9" r="2.35" fill="url(#g45)"/>
<circle cx="637.4" cy="91.0" r="2.35" fill="url(#g39)"/>
<circle cx="658.7" cy="91.1" r="2.35" fill="url(#g43)"/>
<circle cx="615.8" cy="92.9" r="2.35" fill="url(#g40)"/>
<circle cx="627.4" cy="94.9" r="2.35" fill="url(#g47)"/>
<circle cx="659.4" cy="97.3" r="2.35" fill="url(#g43)"/>
<circle cx="640.8" cy="98.1" r="2.35" fill="url(#g39)"/>
<circle cx="641.1" cy="82.7" r="2.35" fill="url(#g44)"/>
<circle cx="619.6" cy="89.6" r="2.35" fill="url(#g41)"/>
<circle cx="621.4" cy="93.6" r="2.35" fill="url(#g46)"/>
<circle cx="630.1" cy="96.6" r="2.35" fill="url(#g51)"/>
<circle cx="615.9" cy="101.8" r="2.35" fill="url(#g40)"/>
<circle cx="611.6" cy="91.8" r="2.35" fill="url(#g52)"/>
<circle cx="624.7" cy="93.2" r="2.35" fill="url(#g48)"/>
<circle cx="630.5" cy="90.3" r="2.35" fill="url(#g51)"/>
<circle cx="653.9" cy="104.1" r="2.35" fill="url(#g43)"/>
<circle cx="646.7" cy="102.6" r="2.35" fill="url(#g50)"/>
<circle cx="630.4" cy="84.0" r="2.35" fill="url(#g51)"/>
<circle cx="631.9" cy="103.2" r="2.35" fill="url(#g42)"/>
<circle cx="641.8" cy="101.0" r="2.35" fill="url(#g44)"/>
<circle cx="658.9" cy="94.1" r="2.35" fill="url(#g43)"/>
<circle cx="651.6" cy="95.5" r="2.35" fill="url(#g49)"/>
<circle cx="611.1" cy="104.3" r="2.35" fill="url(#g52)"/>
<circle cx="641.1" cy="104.4" r="2.35" fill="url(#g44)"/>
<circle cx="624.1" cy="87.9" r="2.35" fill="url(#g48)"/>
<circle cx="646.4" cy="88.3" r="2.35" fill="url(#g50)"/>
<circle cx="622.5" cy="104.4" r="2.35" fill="url(#g46)"/>
<circle cx="635.4" cy="98.9" r="2.35" fill="url(#g45)"/>
<circle cx="615.4" cy="95.6" r="2.35" fill="url(#g40)"/>
<circle cx="621.1" cy="101.6" r="2.35" fill="url(#g46)"/>
<circle cx="659.6" cy="79.2" r="2.35" fill="url(#g43)"/>
<circle cx="652.7" cy="88.9" r="2.35" fill="url(#g49)"/>
<circle cx="382.0" cy="38.5" r="2.35" fill="url(#g1)"/>
<circle cx="395.9" cy="44.3" r="2.35" fill="url(#g5)"/>
<circle cx="383.4" cy="49.6" r="2.35" fill="url(#g1)"/>
<circle cx="399.8" cy="49.6" r="2.35" fill="url(#g10)"/>
<circle cx="402.8" cy="51.5" r="2.35" fill="url(#g3)"/>
<circle cx="384.4" cy="53.0" r="2.35" fill="url(#g1)"/>
<circle cx="405.1" cy="55.8" r="2.35" fill="url(#g3)"/>
<circle cx="386.0" cy="55.8" r="2.35" fill="url(#g1)"/>
<circle cx="382.9" cy="57.3" r="2.35" fill="url(#g1)"/>
<circle cx="395.9" cy="59.6" r="2.35" fill="url(#g5)"/>
<circle cx="378.3" cy="61.1" r="2.35" fill="url(#g2)"/>
<circle cx="384.4" cy="62.2" r="2.35" fill="url(#g1)"/>
<circle cx="387.5" cy="63.7" r="2.35" fill="url(#g1)"/>
<circle cx="406.7" cy="65.7" r="2.35" fill="url(#g3)"/>
<circle cx="379.1" cy="66.8" r="2.35" fill="url(#g2)"/>
<circle cx="391.3" cy="67.6" r="2.35" fill="url(#g5)"/>
<circle cx="395.9" cy="67.6" r="2.35" fill="url(#g5)"/>
<circle cx="418.9" cy="69.6" r="2.35" fill="url(#g8)"/>
<circle cx="384.0" cy="68.0" r="2.35" fill="url(#g1)"/>
<circle cx="386.5" cy="68.5" r="2.35" fill="url(#g1)"/>
<circle cx="392.5" cy="69.5" r="2.35" fill="url(#g5)"/>
<circle cx="390.0" cy="71.5" r="2.35" fill="url(#g1)"/>
<circle cx="378.5" cy="71.5" r="2.35" fill="url(#g2)"/>
<circle cx="381.0" cy="73.5" r="2.35" fill="url(#g1)"/>
<circle cx="386.0" cy="74.0" r="2.35" fill="url(#g1)"/>
<circle cx="389.5" cy="74.0" r="2.35" fill="url(#g1)"/>
<circle cx="392.0" cy="73.0" r="2.35" fill="url(#g5)"/>
<circle cx="417.0" cy="78.4" r="2.35" fill="url(#g4)"/>
<circle cx="425.3" cy="88.5" r="2.35" fill="url(#g7)"/>
<circle cx="462.5" cy="118.8" r="2.35" fill="url(#g37)"/>
<circle cx="482.2" cy="136.8" r="2.35" fill="url(#g21)"/>
<circle cx="487.2" cy="134.9" r="2.35" fill="url(#g18)"/>
<circle cx="489.0" cy="140.1" r="2.35" fill="url(#g17)"/>
<circle cx="491.3" cy="138.3" r="2.35" fill="url(#g17)"/>
<circle cx="487.8" cy="143.0" r="2.35" fill="url(#g18)"/>
<circle cx="491.3" cy="142.7" r="2.35" fill="url(#g17)"/>
<circle cx="494.7" cy="147.5" r="2.35" fill="url(#g34)"/>
<circle cx="496.4" cy="152.1" r="2.35" fill="url(#g34)"/>
<circle cx="500.5" cy="145.8" r="2.35" fill="url(#g32)"/>
<circle cx="502.8" cy="141.8" r="2.35" fill="url(#g25)"/>
<circle cx="505.1" cy="149.3" r="2.35" fill="url(#g25)"/>
<circle cx="504.5" cy="152.7" r="2.35" fill="url(#g25)"/>
<circle cx="503.9" cy="155.6" r="2.35" fill="url(#g25)"/>
<circle cx="506.8" cy="140.6" r="2.35" fill="url(#g25)"/>
<circle cx="510.2" cy="155.6" r="2.35" fill="url(#g26)"/>
<circle cx="515.4" cy="155.6" r="2.35" fill="url(#g28)"/>
<circle cx="512.0" cy="144.1" r="2.35" fill="url(#g26)"/>
<circle cx="513.1" cy="147.0" r="2.35" fill="url(#g28)"/>
<circle cx="518.3" cy="149.8" r="2.35" fill="url(#g29)"/>
<circle cx="523.4" cy="146.4" r="2.35" fill="url(#g16)"/>
<circle cx="526.3" cy="148.1" r="2.35" fill="url(#g31)"/>
<circle cx="527.5" cy="153.3" r="2.35" fill="url(#g31)"/>
<circle cx="527.5" cy="139.5" r="2.35" fill="url(#g31)"/>
<circle cx="501.5" cy="159.9" r="2.35" fill="url(#g32)"/>
<circle cx="491.5" cy="163.6" r="2.35" fill="url(#g17)"/>
<circle cx="499.0" cy="170.7" r="2.35" fill="url(#g32)"/>
<circle cx="514.5" cy="159.2" r="2.35" fill="url(#g28)"/>
<circle cx="515.9" cy="168.6" r="2.35" fill="url(#g28)"/>
<circle cx="522.0" cy="172.4" r="2.35" fill="url(#g16)"/>
<circle cx="528.9" cy="158.0" r="2.35" fill="url(#g31)"/>
<circle cx="531.7" cy="155.2" r="2.35" fill="url(#g23)"/>
<circle cx="535.7" cy="156.3" r="2.35" fill="url(#g24)"/>
<circle cx="539.8" cy="154.4" r="2.35" fill="url(#g24)"/>
<circle cx="544.4" cy="154.8" r="2.35" fill="url(#g33)"/>
<circle cx="543.0" cy="160.1" r="2.35" fill="url(#g30)"/>
<circle cx="534.9" cy="167.2" r="2.35" fill="url(#g23)"/>
<circle cx="536.9" cy="166.1" r="2.35" fill="url(#g24)"/>
<circle cx="534.0" cy="129.0" r="2.35" fill="url(#g23)"/>
<circle cx="539.2" cy="131.3" r="2.35" fill="url(#g24)"/>
<circle cx="544.4" cy="130.7" r="2.35" fill="url(#g33)"/>
<circle cx="546.1" cy="136.5" r="2.35" fill="url(#g35)"/>
<circle cx="554.1" cy="134.2" r="2.35" fill="url(#g22)"/>
<circle cx="553.6" cy="128.4" r="2.35" fill="url(#g15)"/>
<circle cx="556.4" cy="129.6" r="2.35" fill="url(#g22)"/>
<circle cx="561.6" cy="130.2" r="2.35" fill="url(#g22)"/>
<circle cx="565.6" cy="129.6" r="2.35" fill="url(#g22)"/>
<circle cx="560.1" cy="139.0" r="2.35" fill="url(#g22)"/>
<circle cx="553.0" cy="140.5" r="2.35" fill="url(#g15)"/>
<circle cx="554.1" cy="144.0" r="2.35" fill="url(#g22)"/>
<circle cx="547.8" cy="144.0" r="2.35" fill="url(#g35)"/>
<circle cx="542.6" cy="141.1" r="2.35" fill="url(#g30)"/>
<circle cx="539.8" cy="142.8" r="2.35" fill="url(#g24)"/>
<circle cx="531.0" cy="135.0" r="2.35" fill="url(#g23)"/>
<circle cx="532.0" cy="141.0" r="2.35" fill="url(#g23)"/>
<circle cx="525.0" cy="116.0" r="2.35" fill="url(#g16)"/>
<circle cx="527.0" cy="120.0" r="2.35" fill="url(#g31)"/>
<circle cx="529.0" cy="124.0" r="2.35" fill="url(#g31)"/>
<circle cx="530.5" cy="127.5" r="2.35" fill="url(#g31)"/>
<circle cx="523.5" cy="112.5" r="2.35" fill="url(#g16)"/>
<circle cx="531.5" cy="147.0" r="2.35" fill="url(#g23)"/>
<circle cx="531.5" cy="150.0" r="2.35" fill="url(#g23)"/>
<circle cx="651.4" cy="40.4" r="2.35" fill="url(#g49)"/>
<circle cx="657.5" cy="49.9" r="2.35" fill="url(#g43)"/>
<circle cx="654.5" cy="52.2" r="2.35" fill="url(#g43)"/>
<circle cx="648.3" cy="53.0" r="2.35" fill="url(#g50)"/>
<circle cx="652.2" cy="54.5" r="2.35" fill="url(#g49)"/>
<circle cx="639.1" cy="54.5" r="2.35" fill="url(#g39)"/>
<circle cx="637.6" cy="57.6" r="2.35" fill="url(#g39)"/>
<circle cx="639.9" cy="58.4" r="2.35" fill="url(#g39)"/>
<circle cx="631.5" cy="59.1" r="2.35" fill="url(#g42)"/>
<circle cx="635.3" cy="60.7" r="2.35" fill="url(#g45)"/>
<circle cx="638.4" cy="62.2" r="2.35" fill="url(#g39)"/>
<circle cx="629.9" cy="62.2" r="2.35" fill="url(#g51)"/>
<circle cx="644.5" cy="65.0" r="2.35" fill="url(#g44)"/>
<circle cx="649.9" cy="63.7" r="2.35" fill="url(#g49)"/>
<circle cx="633.0" cy="66.0" r="2.35" fill="url(#g42)"/>
<circle cx="628.4" cy="66.8" r="2.35" fill="url(#g47)"/>
<circle cx="658.3" cy="67.6" r="2.35" fill="url(#g43)"/>
<circle cx="633.1" cy="62.7" r="2.35" fill="url(#g42)"/>
<circle cx="627.1" cy="71.5" r="2.35" fill="url(#g47)"/>
<circle cx="631.8" cy="72.8" r="2.35" fill="url(#g42)"/>
<circle cx="637.1" cy="68.8" r="2.35" fill="url(#g39)"/>
<circle cx="638.5" cy="71.5" r="2.35" fill="url(#g39)"/>
<circle cx="643.8" cy="70.1" r="2.35" fill="url(#g44)"/>
<circle cx="648.5" cy="69.4" r="2.35" fill="url(#g50)"/>
<circle cx="652.5" cy="70.1" r="2.35" fill="url(#g49)"/>
<circle cx="616.3" cy="74.1" r="2.35" fill="url(#g40)"/>
<circle cx="627.1" cy="78.2" r="2.35" fill="url(#g47)"/>
<circle cx="635.1" cy="77.5" r="2.35" fill="url(#g45)"/>
<circle cx="641.8" cy="74.8" r="2.35" fill="url(#g44)"/>
<circle cx="645.8" cy="74.8" r="2.35" fill="url(#g50)"/>
<circle cx="649.9" cy="74.1" r="2.35" fill="url(#g49)"/>
<circle cx="655.2" cy="77.5" r="2.35" fill="url(#g43)"/>
<circle cx="617.7" cy="81.5" r="2.35" fill="url(#g41)"/>
<circle cx="621.0" cy="82.2" r="2.35" fill="url(#g46)"/>
<circle cx="627.7" cy="81.5" r="2.35" fill="url(#g47)"/>
<circle cx="632.4" cy="80.8" r="2.35" fill="url(#g42)"/>
<circle cx="638.5" cy="79.5" r="2.35" fill="url(#g39)"/>
<circle cx="643.8" cy="80.8" r="2.35" fill="url(#g44)"/>
<circle cx="647.9" cy="78.8" r="2.35" fill="url(#g50)"/>
<circle cx="651.2" cy="82.2" r="2.35" fill="url(#g49)"/>
<circle cx="607.7" cy="79.5" r="2.35" fill="url(#g3)"/>
<circle cx="601.5" cy="100.2" r="2.35" fill="url(#g10)"/>
<circle cx="606.9" cy="90.2" r="2.35" fill="url(#g3)"/>
<circle cx="613.0" cy="86.4" r="2.35" fill="url(#g52)"/>
<rect x="377.50" y="103.15" width="282.10" height="4.4" fill="url(#bandg)"/>
<circle cx="379.1" cy="105.1" r="0.75" fill="rgb(207, 206, 206)"/>
<circle cx="382.4" cy="105.1" r="0.75" fill="rgb(208, 205, 205)"/>
<circle cx="385.7" cy="105.1" r="0.75" fill="rgb(208, 205, 205)"/>
<circle cx="389.0" cy="105.1" r="0.75" fill="rgb(208, 205, 205)"/>
<circle cx="392.3" cy="105.1" r="0.75" fill="rgb(209, 205, 205)"/>
<circle cx="395.6" cy="105.1" r="0.75" fill="rgb(210, 205, 205)"/>
<circle cx="398.9" cy="105.1" r="0.75" fill="rgb(211, 205, 205)"/>
<circle cx="402.2" cy="105.1" r="0.75" fill="rgb(212, 205, 205)"/>
<circle cx="405.5" cy="105.1" r="0.75" fill="rgb(214, 205, 205)"/>
<circle cx="408.8" cy="105.1" r="0.75" fill="rgb(215, 204, 204)"/>
<circle cx="412.1" cy="105.1" r="0.75" fill="rgb(216, 204, 204)"/>
<circle cx="415.4" cy="105.1" r="0.75" fill="rgb(218, 204, 204)"/>
<circle cx="418.7" cy="105.1" r="0.75" fill="rgb(219, 204, 204)"/>
<circle cx="422.0" cy="105.1" r="0.75" fill="rgb(221, 204, 204)"/>
<circle cx="425.3" cy="105.1" r="0.75" fill="rgb(222, 204, 204)"/>
<circle cx="428.6" cy="105.1" r="0.75" fill="rgb(224, 204, 204)"/>
<circle cx="431.9" cy="105.1" r="0.75" fill="rgb(225, 204, 204)"/>
<circle cx="435.2" cy="105.1" r="0.75" fill="rgb(227, 204, 204)"/>
<circle cx="438.5" cy="105.1" r="0.75" fill="rgb(228, 204, 204)"/>
<circle cx="441.8" cy="105.1" r="0.75" fill="rgb(229, 204, 204)"/>
<circle cx="445.1" cy="105.1" r="0.75" fill="rgb(230, 204, 204)"/>
<circle cx="448.4" cy="105.1" r="0.75" fill="rgb(230, 204, 204)"/>
<circle cx="451.7" cy="105.1" r="0.75" fill="rgb(231, 204, 204)"/>
<circle cx="455.0" cy="105.1" r="0.75" fill="rgb(231, 204, 204)"/>
<circle cx="458.3" cy="105.1" r="0.75" fill="rgb(232, 204, 204)"/>
<circle cx="461.6" cy="105.1" r="0.75" fill="rgb(232, 204, 204)"/>
<circle cx="464.9" cy="105.1" r="0.75" fill="rgb(233, 204, 204)"/>
<circle cx="468.2" cy="105.1" r="0.75" fill="rgb(233, 204, 204)"/>
<circle cx="471.5" cy="105.1" r="0.75" fill="rgb(234, 204, 204)"/>
<circle cx="474.8" cy="105.1" r="0.75" fill="rgb(235, 204, 204)"/>
<circle cx="478.1" cy="105.1" r="0.75" fill="rgb(235, 204, 204)"/>
<circle cx="481.4" cy="105.1" r="0.75" fill="rgb(236, 204, 204)"/>
<circle cx="484.7" cy="105.1" r="0.75" fill="rgb(237, 204, 204)"/>
<circle cx="488.0" cy="105.1" r="0.75" fill="rgb(238, 204, 204)"/>
<circle cx="491.3" cy="105.1" r="0.75" fill="rgb(238, 204, 204)"/>
<circle cx="494.6" cy="105.1" r="0.75" fill="rgb(239, 204, 204)"/>
<circle cx="497.9" cy="105.1" r="0.75" fill="rgb(240, 204, 204)"/>
<circle cx="501.2" cy="105.1" r="0.75" fill="rgb(241, 204, 204)"/>
<circle cx="504.5" cy="105.1" r="0.75" fill="rgb(241, 204, 204)"/>
<circle cx="507.8" cy="105.1" r="0.75" fill="rgb(242, 204, 204)"/>
<circle cx="511.1" cy="105.1" r="0.75" fill="rgb(243, 204, 204)"/>
<circle cx="514.4" cy="105.1" r="0.75" fill="rgb(243, 204, 204)"/>
<circle cx="517.7" cy="105.1" r="0.75" fill="rgb(244, 204, 204)"/>
<circle cx="521.0" cy="105.1" r="0.75" fill="rgb(244, 204, 204)"/>
<circle cx="524.3" cy="105.1" r="0.75" fill="rgb(245, 204, 204)"/>
<circle cx="527.6" cy="105.1" r="0.75" fill="rgb(246, 204, 204)"/>
<circle cx="530.9" cy="105.1" r="0.75" fill="rgb(246, 204, 204)"/>
<circle cx="534.2" cy="105.1" r="0.75" fill="rgb(247, 204, 204)"/>
<circle cx="537.5" cy="105.1" r="0.75" fill="rgb(248, 204, 204)"/>
<circle cx="540.8" cy="105.1" r="0.75" fill="rgb(248, 204, 204)"/>
<circle cx="544.1" cy="105.1" r="0.75" fill="rgb(249, 204, 204)"/>
<circle cx="547.4" cy="105.1" r="0.75" fill="rgb(249, 204, 204)"/>
<circle cx="550.7" cy="105.1" r="0.75" fill="rgb(250, 204, 204)"/>
<circle cx="554.0" cy="105.1" r="0.75" fill="rgb(251, 204, 204)"/>
<circle cx="557.3" cy="105.1" r="0.75" fill="rgb(251, 204, 204)"/>
<circle cx="560.6" cy="105.1" r="0.75" fill="rgb(252, 204, 204)"/>
<circle cx="563.9" cy="105.1" r="0.75" fill="rgb(253, 204, 204)"/>
<circle cx="567.2" cy="105.1" r="0.75" fill="rgb(253, 204, 204)"/>
<circle cx="570.5" cy="105.1" r="0.75" fill="rgb(253, 204, 204)"/>
<circle cx="573.8" cy="105.1" r="0.75" fill="rgb(254, 205, 205)"/>
<circle cx="577.1" cy="105.1" r="0.75" fill="rgb(254, 205, 205)"/>
<circle cx="580.4" cy="105.1" r="0.75" fill="rgb(206, 204, 204)"/>
<circle cx="583.7" cy="105.1" r="0.75" fill="rgb(207, 204, 204)"/>
<circle cx="587.0" cy="105.1" r="0.75" fill="rgb(207, 204, 204)"/>
<circle cx="590.3" cy="105.1" r="0.75" fill="rgb(207, 204, 204)"/>
<circle cx="593.6" cy="105.1" r="0.75" fill="rgb(207, 204, 204)"/>
<circle cx="596.9" cy="105.1" r="0.75" fill="rgb(207, 204, 204)"/>
<circle cx="600.2" cy="105.1" r="0.75" fill="rgb(207, 204, 204)"/>
<circle cx="603.5" cy="105.1" r="0.75" fill="rgb(208, 204, 204)"/>
<circle cx="606.8" cy="105.1" r="0.75" fill="rgb(208, 204, 204)"/>
<circle cx="610.1" cy="105.1" r="0.75" fill="rgb(208, 204, 204)"/>
<circle cx="613.4" cy="105.1" r="0.75" fill="rgb(208, 204, 204)"/>
<circle cx="616.7" cy="105.1" r="0.75" fill="rgb(209, 204, 204)"/>
<circle cx="620.0" cy="105.1" r="0.75" fill="rgb(209, 204, 204)"/>
<circle cx="623.3" cy="105.1" r="0.75" fill="rgb(210, 204, 204)"/>
<circle cx="626.6" cy="105.1" r="0.75" fill="rgb(210, 204, 204)"/>
<circle cx="629.9" cy="105.1" r="0.75" fill="rgb(211, 204, 204)"/>
<circle cx="633.2" cy="105.1" r="0.75" fill="rgb(211, 204, 204)"/>
<circle cx="636.5" cy="105.1" r="0.75" fill="rgb(212, 204, 204)"/>
<circle cx="639.8" cy="105.1" r="0.75" fill="rgb(213, 204, 204)"/>
<circle cx="643.1" cy="105.1" r="0.75" fill="rgb(213, 205, 205)"/>
<circle cx="646.4" cy="105.1" r="0.75" fill="rgb(214, 205, 205)"/>
<circle cx="649.7" cy="105.1" r="0.75" fill="rgb(214, 205, 205)"/>
<circle cx="653.0" cy="105.1" r="0.75" fill="rgb(215, 205, 205)"/>
<circle cx="656.3" cy="105.1" r="0.75" fill="rgb(215, 205, 205)"/>
<line x1="375.3" y1="0.5" x2="659.6" y2="0.5" stroke="#555" stroke-width="1.2"/>
<line x1="659.6" y1="0.5" x2="659.6" y2="214.5" stroke="#444" stroke-width="1.1"/>
<line x1="377.4" y1="0" x2="377.4" y2="214.5" stroke="#262626" stroke-width="1.3"/>
<line x1="375.3" y1="210.3" x2="659.6" y2="210.3" stroke="#262626" stroke-width="1.3"/>
<line x1="375.00" y1="210.75" x2="377.4" y2="210.75" stroke="#262626" stroke-width="1.1"/>
<line x1="373.30" y1="199.07" x2="377.4" y2="199.07" stroke="#262626" stroke-width="1.1"/>
<line x1="375.00" y1="187.40" x2="377.4" y2="187.40" stroke="#262626" stroke-width="1.1"/>
<line x1="373.30" y1="175.72" x2="377.4" y2="175.72" stroke="#262626" stroke-width="1.1"/>
<line x1="375.00" y1="164.04" x2="377.4" y2="164.04" stroke="#262626" stroke-width="1.1"/>
<line x1="373.30" y1="152.36" x2="377.4" y2="152.36" stroke="#262626" stroke-width="1.1"/>
<line x1="375.00" y1="140.68" x2="377.4" y2="140.68" stroke="#262626" stroke-width="1.1"/>
<line x1="373.30" y1="129.01" x2="377.4" y2="129.01" stroke="#262626" stroke-width="1.1"/>
<line x1="375.00" y1="117.33" x2="377.4" y2="117.33" stroke="#262626" stroke-width="1.1"/>
<line x1="373.30" y1="105.65" x2="377.4" y2="105.65" stroke="#262626" stroke-width="1.1"/>
<line x1="375.00" y1="93.97" x2="377.4" y2="93.97" stroke="#262626" stroke-width="1.1"/>
<line x1="373.30" y1="82.29" x2="377.4" y2="82.29" stroke="#262626" stroke-width="1.1"/>
<line x1="375.00" y1="70.62" x2="377.4" y2="70.62" stroke="#262626" stroke-width="1.1"/>
<line x1="373.30" y1="58.94" x2="377.4" y2="58.94" stroke="#262626" stroke-width="1.1"/>
<line x1="375.00" y1="47.26" x2="377.4" y2="47.26" stroke="#262626" stroke-width="1.1"/>
<line x1="373.30" y1="35.58" x2="377.4" y2="35.58" stroke="#262626" stroke-width="1.1"/>
<line x1="375.00" y1="23.90" x2="377.4" y2="23.90" stroke="#262626" stroke-width="1.1"/>
<line x1="373.30" y1="12.23" x2="377.4" y2="12.23" stroke="#262626" stroke-width="1.1"/>
<line x1="375.00" y1="0.55" x2="377.4" y2="0.55" stroke="#262626" stroke-width="1.1"/>
<text transform="translate(370.80,202.57) scale(0.89,1)" text-anchor="end" font-family="Liberation Serif" font-size="11.5" fill="#1a1a1a" stroke="#1a1a1a" stroke-width="0.1">-8000</text>
<text transform="translate(370.80,179.22) scale(0.89,1)" text-anchor="end" font-family="Liberation Serif" font-size="11.5" fill="#1a1a1a" stroke="#1a1a1a" stroke-width="0.1">-6000</text>
<text transform="translate(370.80,155.86) scale(0.89,1)" text-anchor="end" font-family="Liberation Serif" font-size="11.5" fill="#1a1a1a" stroke="#1a1a1a" stroke-width="0.1">-4000</text>
<text transform="translate(370.80,132.51) scale(0.89,1)" text-anchor="end" font-family="Liberation Serif" font-size="11.5" fill="#1a1a1a" stroke="#1a1a1a" stroke-width="0.1">-2000</text>
<text transform="translate(370.80,109.15) scale(0.89,1)" text-anchor="end" font-family="Liberation Serif" font-size="11.5" fill="#1a1a1a" stroke="#1a1a1a" stroke-width="0.1">0</text>
<text transform="translate(370.80,85.79) scale(0.89,1)" text-anchor="end" font-family="Liberation Serif" font-size="11.5" fill="#1a1a1a" stroke="#1a1a1a" stroke-width="0.1">2000</text>
<text transform="translate(370.80,62.44) scale(0.89,1)" text-anchor="end" font-family="Liberation Serif" font-size="11.5" fill="#1a1a1a" stroke="#1a1a1a" stroke-width="0.1">4000</text>
<text transform="translate(370.80,39.08) scale(0.89,1)" text-anchor="end" font-family="Liberation Serif" font-size="11.5" fill="#1a1a1a" stroke="#1a1a1a" stroke-width="0.1">6000</text>
<text transform="translate(370.80,15.73) scale(0.89,1)" text-anchor="end" font-family="Liberation Serif" font-size="11.5" fill="#1a1a1a" stroke="#1a1a1a" stroke-width="0.1">8000</text>
<line x1="377.50" y1="210.3" x2="377.50" y2="214.50" stroke="#262626" stroke-width="1.1"/>
<line x1="389.27" y1="210.3" x2="389.27" y2="212.80" stroke="#262626" stroke-width="1.1"/>
<line x1="401.04" y1="210.3" x2="401.04" y2="214.50" stroke="#262626" stroke-width="1.1"/>
<line x1="412.80" y1="210.3" x2="412.80" y2="212.80" stroke="#262626" stroke-width="1.1"/>
<line x1="424.57" y1="210.3" x2="424.57" y2="214.50" stroke="#262626" stroke-width="1.1"/>
<line x1="436.34" y1="210.3" x2="436.34" y2="212.80" stroke="#262626" stroke-width="1.1"/>
<line x1="448.11" y1="210.3" x2="448.11" y2="214.50" stroke="#262626" stroke-width="1.1"/>
<line x1="459.87" y1="210.3" x2="459.87" y2="212.80" stroke="#262626" stroke-width="1.1"/>
<line x1="471.64" y1="210.3" x2="471.64" y2="214.50" stroke="#262626" stroke-width="1.1"/>
<line x1="483.41" y1="210.3" x2="483.41" y2="212.80" stroke="#262626" stroke-width="1.1"/>
<line x1="495.18" y1="210.3" x2="495.18" y2="214.50" stroke="#262626" stroke-width="1.1"/>
<line x1="506.94" y1="210.3" x2="506.94" y2="212.80" stroke="#262626" stroke-width="1.1"/>
<line x1="518.71" y1="210.3" x2="518.71" y2="214.50" stroke="#262626" stroke-width="1.1"/>
<line x1="530.48" y1="210.3" x2="530.48" y2="212.80" stroke="#262626" stroke-width="1.1"/>
<line x1="542.25" y1="210.3" x2="542.25" y2="214.50" stroke="#262626" stroke-width="1.1"/>
<line x1="554.01" y1="210.3" x2="554.01" y2="212.80" stroke="#262626" stroke-width="1.1"/>
<line x1="565.78" y1="210.3" x2="565.78" y2="214.50" stroke="#262626" stroke-width="1.1"/>
<line x1="577.55" y1="210.3" x2="577.55" y2="212.80" stroke="#262626" stroke-width="1.1"/>
<line x1="589.32" y1="210.3" x2="589.32" y2="214.50" stroke="#262626" stroke-width="1.1"/>
<line x1="601.08" y1="210.3" x2="601.08" y2="212.80" stroke="#262626" stroke-width="1.1"/>
<line x1="612.85" y1="210.3" x2="612.85" y2="214.50" stroke="#262626" stroke-width="1.1"/>
<line x1="624.62" y1="210.3" x2="624.62" y2="212.80" stroke="#262626" stroke-width="1.1"/>
<line x1="636.38" y1="210.3" x2="636.38" y2="214.50" stroke="#262626" stroke-width="1.1"/>
<line x1="648.15" y1="210.3" x2="648.15" y2="212.80" stroke="#262626" stroke-width="1.1"/>
<line x1="659.92" y1="210.3" x2="659.92" y2="214.50" stroke="#262626" stroke-width="1.1"/>
<text transform="translate(377.50,226.00) scale(0.89,1)" text-anchor="middle" font-family="Liberation Serif" font-size="11.5" fill="#1a1a1a" stroke="#1a1a1a" stroke-width="0.1">0</text>
<text transform="translate(401.04,226.00) scale(0.89,1)" text-anchor="middle" font-family="Liberation Serif" font-size="11.5" fill="#1a1a1a" stroke="#1a1a1a" stroke-width="0.1">30</text>
<text transform="translate(424.57,226.00) scale(0.89,1)" text-anchor="middle" font-family="Liberation Serif" font-size="11.5" fill="#1a1a1a" stroke="#1a1a1a" stroke-width="0.1">60</text>
<text transform="translate(448.11,226.00) scale(0.89,1)" text-anchor="middle" font-family="Liberation Serif" font-size="11.5" fill="#1a1a1a" stroke="#1a1a1a" stroke-width="0.1">90</text>
<text transform="translate(471.64,226.00) scale(0.89,1)" text-anchor="middle" font-family="Liberation Serif" font-size="11.5" fill="#1a1a1a" stroke="#1a1a1a" stroke-width="0.1">120</text>
<text transform="translate(495.18,226.00) scale(0.89,1)" text-anchor="middle" font-family="Liberation Serif" font-size="11.5" fill="#1a1a1a" stroke="#1a1a1a" stroke-width="0.1">150</text>
<text transform="translate(518.71,226.00) scale(0.89,1)" text-anchor="middle" font-family="Liberation Serif" font-size="11.5" fill="#1a1a1a" stroke="#1a1a1a" stroke-width="0.1">180</text>
<text transform="translate(542.25,226.00) scale(0.89,1)" text-anchor="middle" font-family="Liberation Serif" font-size="11.5" fill="#1a1a1a" stroke="#1a1a1a" stroke-width="0.1">210</text>
<text transform="translate(565.78,226.00) scale(0.89,1)" text-anchor="middle" font-family="Liberation Serif" font-size="11.5" fill="#1a1a1a" stroke="#1a1a1a" stroke-width="0.1">240</text>
<text transform="translate(589.32,226.00) scale(0.89,1)" text-anchor="middle" font-family="Liberation Serif" font-size="11.5" fill="#1a1a1a" stroke="#1a1a1a" stroke-width="0.1">270</text>
<text transform="translate(612.85,226.00) scale(0.89,1)" text-anchor="middle" font-family="Liberation Serif" font-size="11.5" fill="#1a1a1a" stroke="#1a1a1a" stroke-width="0.1">300</text>
<text transform="translate(636.38,226.00) scale(0.89,1)" text-anchor="middle" font-family="Liberation Serif" font-size="11.5" fill="#1a1a1a" stroke="#1a1a1a" stroke-width="0.1">330</text>
<text transform="translate(659.92,226.00) scale(0.89,1)" text-anchor="middle" font-family="Liberation Serif" font-size="11.5" fill="#1a1a1a" stroke="#1a1a1a" stroke-width="0.1">360</text>
<text transform="translate(518.80,239.20)" text-anchor="middle" font-family="Liberation Serif" font-size="10.7" fill="#1a1a1a" stroke="#1a1a1a" stroke-width="0.1">Phase (deg)</text>
<text transform="translate(340.50,102.40) rotate(-90)" text-anchor="middle" font-family="Liberation Serif" font-size="10.8" fill="#1a1a1a" stroke="#1a1a1a" stroke-width="0.1">Amplitude (pC)</text>
<text transform="translate(499.80,257.20)" text-anchor="middle" font-family="Liberation Sans" font-size="15" fill="#1a1a1a">(b)</text>
</svg></body></html>
